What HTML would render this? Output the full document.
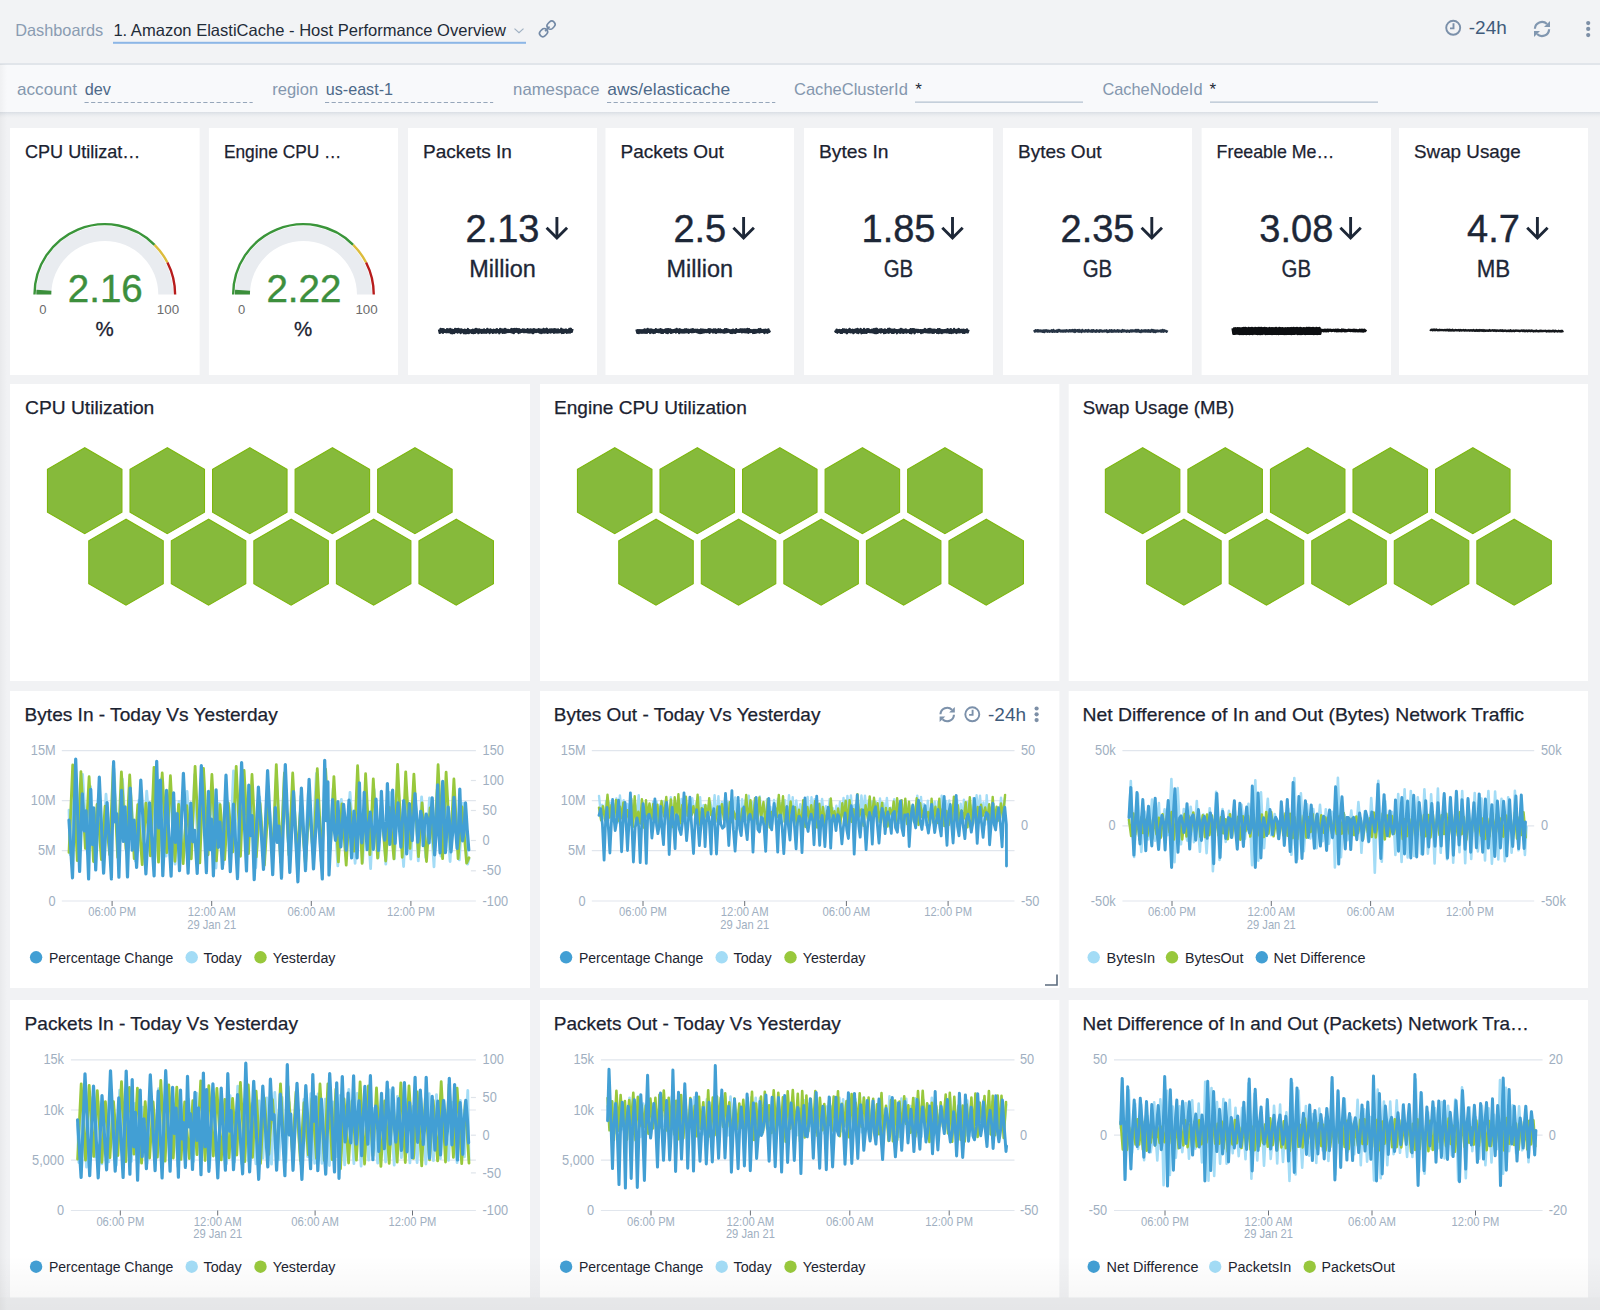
<!DOCTYPE html>
<html><head><meta charset="utf-8"><title>Amazon ElastiCache - Host Performance Overview</title>
<style>
html,body{margin:0;padding:0;background:#f1f2f4;width:1600px;height:1310px;overflow:hidden}
svg{display:block;font-family:"Liberation Sans", sans-serif}
</style></head><body>
<svg width="1600" height="1310" viewBox="0 0 1600 1310">
<defs>
<linearGradient id="shadowG" x1="0" y1="0" x2="0" y2="1"><stop offset="0" stop-color="#d9dee4"/><stop offset="1" stop-color="#f1f2f4" stop-opacity="0"/></linearGradient>
<linearGradient id="botG" x1="0" y1="0" x2="0" y2="1"><stop offset="0" stop-color="#000" stop-opacity="0"/><stop offset="0.76" stop-color="#000" stop-opacity="0.03"/><stop offset="0.78" stop-color="#000" stop-opacity="0.045"/><stop offset="1" stop-color="#000" stop-opacity="0.05"/></linearGradient>
<linearGradient id="leftG" x1="0" y1="0" x2="1" y2="0"><stop offset="0" stop-color="#000" stop-opacity="0.035"/><stop offset="1" stop-color="#000" stop-opacity="0"/></linearGradient>
</defs>
<rect width="1600" height="1310" fill="#f1f2f4"/>
<rect x="0.00" y="0.00" width="1600.00" height="63.00" fill="#f2f3f5"/>
<rect x="0.00" y="63.00" width="1600.00" height="2.00" fill="#e1e5ea"/>
<text x="15.2" y="35.6" font-size="16.5" fill="#8a9cb2" textLength="88.0" lengthAdjust="spacingAndGlyphs">Dashboards</text>
<text x="113.4" y="35.5" font-size="16.5" fill="#1f2b38" textLength="392.6" lengthAdjust="spacingAndGlyphs">1. Amazon ElastiCache - Host Performance Overview</text>
<polyline points="514.5,28.6 519,32.6 523.5,28.6" fill="none" stroke="#9fb0c2" stroke-width="1.2"/>
<rect x="113.00" y="41.80" width="413.00" height="2.00" fill="#8cb6e6"/>
<g transform="translate(547.3,28.9) rotate(-45)" fill="none" stroke="#7389a6" stroke-width="1.6"><rect x="-9.6" y="-3.3" width="8.6" height="6.6" rx="3.3"/><rect x="1" y="-3.3" width="8.6" height="6.6" rx="3.3"/><line x1="-3.2" y1="0" x2="3.2" y2="0"/></g>
<g fill="none" stroke="#7b90aa" stroke-width="1.9"><circle cx="1453.2" cy="27.8" r="7.0"/><polyline points="1453.5,23.2 1453.5,28.4 1450.0,28.4"/></g>
<text x="1468.8" y="33.9" font-size="19" fill="#3f5b7b" textLength="38.0" lengthAdjust="spacingAndGlyphs">-24h</text>
<g transform="translate(1542,29) scale(1.0)" fill="none" stroke="#8197b0" stroke-width="2.2"><path d="M -7.1 -0.2 A 7.1 7.1 0 0 1 5.0 -5.0"/><path d="M 7.1 0.2 A 7.1 7.1 0 0 1 -5.0 5.0"/></g><g transform="translate(1542,29) scale(1.0)" fill="#8197b0"><polygon points="8,-8 8,-2 2,-2"/><polygon points="-8,8 -8,2 -2,2"/></g>
<circle cx="1588.2" cy="23.1" r="2.1" fill="#7d8fa6"/>
<circle cx="1588.2" cy="28.9" r="2.1" fill="#7d8fa6"/>
<circle cx="1588.2" cy="35.1" r="2.1" fill="#7d8fa6"/>
<rect x="0.00" y="65.00" width="1600.00" height="47.00" fill="#f8f9fb"/>
<rect x="0" y="112" width="1600" height="7" fill="url(#shadowG)"/>
<text x="17.1" y="95.2" font-size="17" fill="#8497ae" textLength="59.8" lengthAdjust="spacingAndGlyphs">account</text>
<text x="84.8" y="95.2" font-size="17" fill="#4d6989" textLength="26.2" lengthAdjust="spacingAndGlyphs">dev</text>
<line x1="84.5" y1="102.5" x2="252.7" y2="102.5" stroke="#96a6ba" stroke-width="1" stroke-dasharray="4.2 2.4"/>
<text x="272.2" y="95.2" font-size="17" fill="#8497ae" textLength="46.0" lengthAdjust="spacingAndGlyphs">region</text>
<text x="325.8" y="95.2" font-size="17" fill="#4d6989" textLength="67.2" lengthAdjust="spacingAndGlyphs">us-east-1</text>
<line x1="325" y1="102.5" x2="493.2" y2="102.5" stroke="#96a6ba" stroke-width="1" stroke-dasharray="4.2 2.4"/>
<text x="513.1" y="95.2" font-size="17" fill="#8497ae" textLength="86.4" lengthAdjust="spacingAndGlyphs">namespace</text>
<text x="607.3" y="95.2" font-size="17" fill="#4d6989" textLength="122.9" lengthAdjust="spacingAndGlyphs">aws/elasticache</text>
<line x1="607" y1="102.5" x2="775.3" y2="102.5" stroke="#96a6ba" stroke-width="1" stroke-dasharray="4.2 2.4"/>
<text x="794.0" y="95.2" font-size="17" fill="#8497ae" textLength="113.9" lengthAdjust="spacingAndGlyphs">CacheClusterId</text>
<text x="915.2" y="95.2" font-size="17" fill="#1e2a38">*</text>
<rect x="915.00" y="101.60" width="168.00" height="1.00" fill="#a3b3c5"/>
<text x="1102.4" y="95.2" font-size="17" fill="#8497ae" textLength="100.1" lengthAdjust="spacingAndGlyphs">CacheNodeId</text>
<text x="1209.6" y="95.2" font-size="17" fill="#1e2a38">*</text>
<rect x="1210.00" y="101.60" width="168.00" height="1.00" fill="#a3b3c5"/>
<rect x="10.00" y="128.00" width="189.60" height="247.00" fill="#ffffff"/>
<text x="25.0" y="158.4" font-size="19" fill="#1b2230" textLength="115.4" lengthAdjust="spacingAndGlyphs" stroke="#1b2230" stroke-width="0.25">CPU Utilizat…</text>
<path d="M 36.3 294.5 A 68.5 68.5 0 0 1 173.3 294.5 L 158.3 294.5 A 53.5 53.5 0 0 0 51.3 294.5 Z" fill="#e9ecf0"/>
<path d="M 36.3 294.5 A 68.5 68.5 0 0 1 36.46 289.86 L 51.42 290.87 A 53.5 53.5 0 0 0 51.3 294.5 Z" fill="#3b8f3b"/>
<path d="M 34.50 294.50 A 70.3 70.3 0 0 1 154.51 244.79" fill="none" stroke="#3a953a" stroke-width="2.4"/>
<path d="M 154.51 244.79 A 70.3 70.3 0 0 1 167.44 262.58" fill="none" stroke="#dcbc3c" stroke-width="2.4"/>
<path d="M 167.44 262.58 A 70.3 70.3 0 0 1 175.10 294.50" fill="none" stroke="#b71c1c" stroke-width="2.4"/>
<text x="105.3" y="302.0" font-size="38.5" fill="#3d8f3d" text-anchor="middle" stroke="#3d8f3d" stroke-width="0.4">2.16</text>
<text x="39.3" y="314.0" font-size="13" fill="#6b6b6b">0</text>
<text x="156.8" y="314.0" font-size="13" fill="#6b6b6b" textLength="22.3" lengthAdjust="spacingAndGlyphs">100</text>
<text x="104.6" y="336.3" font-size="20.5" fill="#1b2230" text-anchor="middle" stroke="#1b2230" stroke-width="0.3">%</text>
<rect x="208.90" y="128.00" width="189.10" height="247.00" fill="#ffffff"/>
<text x="223.9" y="158.4" font-size="19" fill="#1b2230" textLength="117.5" lengthAdjust="spacingAndGlyphs" stroke="#1b2230" stroke-width="0.25">Engine CPU …</text>
<path d="M 234.95 294.5 A 68.5 68.5 0 0 1 371.95 294.5 L 356.95 294.5 A 53.5 53.5 0 0 0 249.95 294.5 Z" fill="#e9ecf0"/>
<path d="M 234.95 294.5 A 68.5 68.5 0 0 1 235.12 289.73 L 250.08 290.77 A 53.5 53.5 0 0 0 249.95 294.5 Z" fill="#3b8f3b"/>
<path d="M 233.15 294.50 A 70.3 70.3 0 0 1 353.16 244.79" fill="none" stroke="#3a953a" stroke-width="2.4"/>
<path d="M 353.16 244.79 A 70.3 70.3 0 0 1 366.09 262.58" fill="none" stroke="#dcbc3c" stroke-width="2.4"/>
<path d="M 366.09 262.58 A 70.3 70.3 0 0 1 373.75 294.50" fill="none" stroke="#b71c1c" stroke-width="2.4"/>
<text x="303.9" y="302.0" font-size="38.5" fill="#3d8f3d" text-anchor="middle" stroke="#3d8f3d" stroke-width="0.4">2.22</text>
<text x="237.9" y="314.0" font-size="13" fill="#6b6b6b">0</text>
<text x="355.4" y="314.0" font-size="13" fill="#6b6b6b" textLength="22.3" lengthAdjust="spacingAndGlyphs">100</text>
<text x="303.2" y="336.3" font-size="20.5" fill="#1b2230" text-anchor="middle" stroke="#1b2230" stroke-width="0.3">%</text>
<rect x="408.00" y="128.00" width="189.00" height="247.00" fill="#ffffff"/>
<text x="423.0" y="158.4" font-size="19" fill="#1b2230" textLength="88.9" lengthAdjust="spacingAndGlyphs" stroke="#1b2230" stroke-width="0.25">Packets In</text>
<text x="502.5" y="242.4" font-size="38" fill="#1d2737" text-anchor="middle" stroke="#1d2737" stroke-width="0.4">2.13</text>
<g fill="none" stroke="#1d2737" stroke-width="2.9" stroke-linecap="butt"><line x1="556.9" y1="217" x2="556.9" y2="237.5"/><polyline points="546.6,227.8 556.9,238 567.1,227.8"/></g>
<text x="502.5" y="277.0" font-size="23.5" fill="#1d2737" text-anchor="middle" textLength="66.5" lengthAdjust="spacingAndGlyphs" stroke="#1d2737" stroke-width="0.3">Million</text>
<polyline points="439.00,329.54 439.80,332.90 440.61,328.86 441.41,332.11 442.22,329.16 443.02,332.74 443.83,329.32 444.63,331.83 445.43,330.30 446.24,332.25 447.04,329.19 447.85,332.05 448.65,329.57 449.45,332.15 450.26,329.04 451.06,333.12 451.87,329.72 452.67,333.20 453.48,330.24 454.28,332.91 455.08,328.99 455.89,331.89 456.69,329.25 457.50,332.52 458.30,328.87 459.11,331.98 459.91,329.51 460.71,333.02 461.52,329.36 462.32,332.14 463.13,330.21 463.93,333.11 464.73,329.61 465.54,333.19 466.34,330.12 467.15,332.91 467.95,329.09 468.76,333.08 469.56,330.31 470.36,332.23 471.17,330.26 471.97,332.82 472.78,329.79 473.58,333.14 474.39,329.76 475.19,332.85 475.99,329.00 476.80,332.03 477.60,329.48 478.41,333.13 479.21,329.53 480.02,332.21 480.82,329.93 481.62,332.87 482.43,330.04 483.23,332.59 484.04,329.48 484.84,332.51 485.64,330.14 486.45,332.67 487.25,328.93 488.06,332.15 488.86,329.83 489.67,333.06 490.47,329.45 491.27,332.08 492.08,330.32 492.88,332.82 493.69,329.80 494.49,332.38 495.30,329.92 496.10,332.63 496.90,329.22 497.71,332.14 498.51,330.22 499.32,333.18 500.12,328.94 500.92,331.69 501.73,329.47 502.53,332.72 503.34,329.72 504.14,332.79 504.95,328.86 505.75,332.57 506.55,329.74 507.36,331.96 508.16,329.95 508.97,331.89 509.77,330.17 510.58,331.99 511.38,329.04 512.18,332.49 512.99,329.10 513.79,333.08 514.60,329.09 515.40,331.74 516.20,328.91 517.01,331.80 517.81,329.15 518.62,332.95 519.42,329.33 520.23,332.28 521.03,330.22 521.83,331.79 522.64,329.36 523.44,332.03 524.25,329.52 525.05,332.07 525.86,330.09 526.66,332.11 527.46,329.22 528.27,332.41 529.07,329.74 529.88,332.41 530.68,329.49 531.48,332.45 532.29,329.65 533.09,333.15 533.90,329.18 534.70,332.01 535.51,329.85 536.31,331.95 537.11,329.78 537.92,331.70 538.72,329.19 539.53,332.53 540.33,329.69 541.14,333.04 541.94,329.83 542.74,332.55 543.55,328.91 544.35,332.52 545.16,329.40 545.96,332.23 546.77,328.80 547.57,332.82 548.37,329.87 549.18,332.21 549.98,329.43 550.79,332.46 551.59,329.53 552.39,331.96 553.20,329.45 554.00,332.74 554.81,329.16 555.61,332.35 556.42,329.65 557.22,332.44 558.02,329.51 558.83,332.39 559.63,330.32 560.44,332.07 561.24,328.82 562.05,332.93 562.85,329.62 563.65,332.82 564.46,330.01 565.26,332.07 566.07,329.54 566.87,332.74 567.67,330.30 568.48,332.39 569.28,328.94 570.09,332.60 570.89,328.81 571.70,331.81 572.50,328.94" fill="none" stroke="#1f2a38" stroke-width="2.4" stroke-linejoin="round"/>
<rect x="605.50" y="128.00" width="188.50" height="247.00" fill="#ffffff"/>
<text x="620.5" y="158.4" font-size="19" fill="#1b2230" textLength="103.4" lengthAdjust="spacingAndGlyphs" stroke="#1b2230" stroke-width="0.25">Packets Out</text>
<text x="699.8" y="242.4" font-size="38" fill="#1d2737" text-anchor="middle" stroke="#1d2737" stroke-width="0.4">2.5</text>
<g fill="none" stroke="#1d2737" stroke-width="2.9" stroke-linecap="butt"><line x1="743.6" y1="217" x2="743.6" y2="237.5"/><polyline points="733.4,227.8 743.6,238 753.9,227.8"/></g>
<text x="699.8" y="277.0" font-size="23.5" fill="#1d2737" text-anchor="middle" textLength="66.5" lengthAdjust="spacingAndGlyphs" stroke="#1d2737" stroke-width="0.3">Million</text>
<polyline points="636.50,329.40 637.30,332.78 638.11,330.14 638.91,333.00 639.72,330.13 640.52,332.54 641.33,330.27 642.13,332.66 642.93,330.19 643.74,332.59 644.54,329.39 645.35,332.67 646.15,329.78 646.95,332.81 647.76,329.02 648.56,331.76 649.37,329.68 650.17,332.94 650.98,329.37 651.78,332.22 652.58,329.97 653.39,332.93 654.19,330.28 655.00,332.66 655.80,329.22 656.61,331.82 657.41,329.94 658.21,332.03 659.02,329.64 659.82,332.11 660.63,329.15 661.43,332.89 662.23,329.96 663.04,332.85 663.84,330.30 664.65,331.74 665.45,329.47 666.26,332.72 667.06,329.25 667.86,332.99 668.67,329.20 669.47,331.97 670.28,329.36 671.08,332.89 671.89,330.27 672.69,332.29 673.49,330.18 674.30,331.80 675.10,329.73 675.91,332.54 676.71,329.04 677.52,331.78 678.32,329.69 679.12,333.00 679.93,329.33 680.73,332.34 681.54,330.06 682.34,332.48 683.14,330.03 683.95,332.50 684.75,329.49 685.56,332.15 686.36,329.29 687.17,332.16 687.97,329.74 688.77,332.76 689.58,330.05 690.38,331.86 691.19,329.60 691.99,332.21 692.80,329.18 693.60,331.95 694.40,329.88 695.21,331.68 696.01,329.77 696.82,332.04 697.62,329.77 698.42,332.67 699.23,330.35 700.03,332.98 700.84,329.40 701.64,332.74 702.45,329.65 703.25,332.41 704.05,329.83 704.86,332.15 705.66,330.09 706.47,332.02 707.27,329.99 708.08,332.07 708.88,329.13 709.68,332.72 710.49,329.50 711.29,331.62 712.10,330.03 712.90,332.36 713.70,329.43 714.51,332.19 715.31,329.51 716.12,332.87 716.92,330.03 717.73,332.13 718.53,329.34 719.33,332.05 720.14,329.39 720.94,332.16 721.75,330.37 722.55,332.25 723.36,330.30 724.16,332.70 724.96,329.22 725.77,332.34 726.57,329.14 727.38,331.90 728.18,329.78 728.98,331.85 729.79,330.33 730.59,332.75 731.40,330.33 732.20,332.91 733.01,329.62 733.81,332.58 734.61,330.33 735.42,332.87 736.22,329.29 737.03,331.75 737.83,330.14 738.64,331.80 739.44,329.69 740.24,331.71 741.05,329.28 741.85,332.30 742.66,329.41 743.46,331.96 744.27,329.48 745.07,332.23 745.87,329.49 746.68,332.18 747.48,329.01 748.29,332.78 749.09,329.23 749.89,332.08 750.70,330.13 751.50,331.81 752.31,330.22 753.11,332.95 753.92,330.01 754.72,332.82 755.52,330.07 756.33,332.47 757.13,330.05 757.94,332.03 758.74,329.35 759.55,332.45 760.35,329.08 761.15,331.93 761.96,330.02 762.76,331.69 763.57,330.10 764.37,332.97 765.17,329.61 765.98,332.27 766.78,329.92 767.59,332.66 768.39,329.44 769.20,331.82 770.00,330.34" fill="none" stroke="#1f2a38" stroke-width="2.4" stroke-linejoin="round"/>
<rect x="804.00" y="128.00" width="189.00" height="247.00" fill="#ffffff"/>
<text x="819.0" y="158.4" font-size="19" fill="#1b2230" textLength="69.6" lengthAdjust="spacingAndGlyphs" stroke="#1b2230" stroke-width="0.25">Bytes In</text>
<text x="898.5" y="242.4" font-size="38" fill="#1d2737" text-anchor="middle" stroke="#1d2737" stroke-width="0.4">1.85</text>
<g fill="none" stroke="#1d2737" stroke-width="2.9" stroke-linecap="butt"><line x1="952.5" y1="217" x2="952.5" y2="237.5"/><polyline points="942.3,227.8 952.5,238 962.7,227.8"/></g>
<text x="898.5" y="277.0" font-size="23.5" fill="#1d2737" text-anchor="middle" textLength="29.5" lengthAdjust="spacingAndGlyphs" stroke="#1d2737" stroke-width="0.3">GB</text>
<polyline points="835.00,330.32 835.80,331.83 836.61,329.74 837.41,332.71 838.22,330.13 839.02,331.83 839.83,329.98 840.63,332.83 841.43,330.11 842.24,332.80 843.04,329.32 843.85,331.87 844.65,329.52 845.45,332.35 846.26,329.70 847.06,333.19 847.87,330.20 848.67,331.69 849.48,328.89 850.28,332.28 851.08,330.03 851.89,332.17 852.69,329.78 853.50,333.13 854.30,330.02 855.11,331.99 855.91,329.44 856.71,332.50 857.52,328.87 858.32,332.95 859.13,329.79 859.93,331.97 860.73,329.05 861.54,333.18 862.34,330.29 863.15,332.79 863.95,329.00 864.76,332.66 865.56,330.00 866.36,332.89 867.17,329.22 867.97,331.96 868.78,329.35 869.58,332.00 870.39,330.28 871.19,332.18 871.99,329.83 872.80,332.27 873.60,329.34 874.41,332.95 875.21,328.86 876.02,333.16 876.82,328.81 877.62,332.88 878.43,329.87 879.23,331.93 880.04,329.38 880.84,332.50 881.64,329.30 882.45,331.80 883.25,330.04 884.06,333.08 884.86,329.41 885.67,332.73 886.47,330.19 887.27,332.27 888.08,328.94 888.88,332.66 889.69,328.81 890.49,331.96 891.30,329.64 892.10,332.89 892.90,329.66 893.71,332.87 894.51,329.48 895.32,331.84 896.12,330.19 896.92,333.17 897.73,330.16 898.53,331.96 899.34,329.82 900.14,332.76 900.95,329.02 901.75,332.39 902.55,329.57 903.36,332.87 904.16,329.91 904.97,332.23 905.77,329.40 906.58,332.64 907.38,330.28 908.18,331.83 908.99,330.13 909.79,332.78 910.60,329.27 911.40,333.16 912.20,329.16 913.01,332.05 913.81,329.16 914.62,333.18 915.42,329.80 916.23,331.68 917.03,329.76 917.83,332.10 918.64,330.07 919.44,331.73 920.25,330.15 921.05,332.99 921.86,330.26 922.66,332.61 923.46,330.02 924.27,331.96 925.07,329.08 925.88,332.12 926.68,330.06 927.48,332.36 928.29,329.27 929.09,332.47 929.90,329.02 930.70,332.28 931.51,329.53 932.31,332.76 933.11,329.63 933.92,332.76 934.72,329.62 935.53,331.87 936.33,330.15 937.14,332.87 937.94,329.19 938.74,333.11 939.55,329.28 940.35,332.55 941.16,330.08 941.96,332.97 942.77,330.16 943.57,332.31 944.37,330.12 945.18,332.25 945.98,329.87 946.79,332.32 947.59,329.24 948.39,332.49 949.20,329.97 950.00,332.86 950.81,329.21 951.61,332.93 952.42,330.29 953.22,332.61 954.02,328.96 954.83,332.06 955.63,330.03 956.44,332.91 957.24,329.78 958.05,332.28 958.85,329.08 959.65,332.25 960.46,330.03 961.26,331.99 962.07,329.81 962.87,332.73 963.67,329.77 964.48,332.85 965.28,330.24 966.09,332.04 966.89,329.38 967.70,332.40 968.50,329.57" fill="none" stroke="#1f2a38" stroke-width="2.4" stroke-linejoin="round"/>
<rect x="1003.00" y="128.00" width="189.00" height="247.00" fill="#ffffff"/>
<text x="1018.0" y="158.4" font-size="19" fill="#1b2230" textLength="83.5" lengthAdjust="spacingAndGlyphs" stroke="#1b2230" stroke-width="0.25">Bytes Out</text>
<text x="1097.5" y="242.4" font-size="38" fill="#1d2737" text-anchor="middle" stroke="#1d2737" stroke-width="0.4">2.35</text>
<g fill="none" stroke="#1d2737" stroke-width="2.9" stroke-linecap="butt"><line x1="1151.8" y1="217" x2="1151.8" y2="237.5"/><polyline points="1141.6,227.8 1151.8,238 1162.0,227.8"/></g>
<text x="1097.5" y="277.0" font-size="23.5" fill="#1d2737" text-anchor="middle" textLength="29.5" lengthAdjust="spacingAndGlyphs" stroke="#1d2737" stroke-width="0.3">GB</text>
<polyline points="1034.00,330.03 1034.80,331.78 1035.61,329.95 1036.41,331.45 1037.22,329.97 1038.02,331.73 1038.83,330.06 1039.63,331.54 1040.43,330.30 1041.24,331.63 1042.04,330.31 1042.85,332.05 1043.65,330.18 1044.45,332.27 1045.26,330.08 1046.06,331.59 1046.87,330.05 1047.67,331.87 1048.48,330.48 1049.28,331.87 1050.08,330.60 1050.89,331.73 1051.69,330.12 1052.50,332.01 1053.30,329.74 1054.11,331.95 1054.91,330.59 1055.71,331.82 1056.52,330.38 1057.32,332.07 1058.13,329.80 1058.93,331.47 1059.73,329.91 1060.54,331.66 1061.34,330.44 1062.15,331.80 1062.95,330.23 1063.76,331.65 1064.56,330.37 1065.36,331.78 1066.17,329.98 1066.97,331.54 1067.78,330.27 1068.58,331.61 1069.39,329.95 1070.19,331.62 1070.99,329.94 1071.80,331.42 1072.60,329.83 1073.41,331.78 1074.21,329.76 1075.02,332.11 1075.82,329.84 1076.62,331.42 1077.43,329.93 1078.23,331.87 1079.04,329.80 1079.84,331.91 1080.64,330.29 1081.45,332.21 1082.25,329.70 1083.06,331.59 1083.86,330.48 1084.67,331.79 1085.47,330.01 1086.27,331.54 1087.08,330.08 1087.88,331.88 1088.69,329.88 1089.49,331.52 1090.30,330.48 1091.10,331.86 1091.90,329.93 1092.71,331.92 1093.51,329.93 1094.32,331.63 1095.12,330.58 1095.92,332.02 1096.73,330.02 1097.53,331.41 1098.34,330.53 1099.14,332.03 1099.95,330.00 1100.75,331.58 1101.55,330.37 1102.36,331.77 1103.16,330.59 1103.97,331.66 1104.77,330.39 1105.58,331.43 1106.38,330.13 1107.18,332.25 1107.99,330.54 1108.79,332.02 1109.60,330.05 1110.40,331.65 1111.20,330.02 1112.01,332.09 1112.81,330.37 1113.62,331.76 1114.42,330.04 1115.23,331.79 1116.03,330.44 1116.83,331.76 1117.64,329.96 1118.44,331.92 1119.25,330.32 1120.05,331.65 1120.86,330.46 1121.66,332.00 1122.46,329.90 1123.27,331.61 1124.07,330.04 1124.88,331.45 1125.68,330.45 1126.48,331.93 1127.29,330.28 1128.09,331.78 1128.90,330.56 1129.70,331.85 1130.51,330.18 1131.31,331.60 1132.11,330.04 1132.92,331.59 1133.72,330.29 1134.53,331.49 1135.33,329.82 1136.14,331.90 1136.94,329.79 1137.74,331.70 1138.55,329.90 1139.35,332.00 1140.16,330.57 1140.96,332.23 1141.77,330.15 1142.57,331.69 1143.37,330.27 1144.18,331.64 1144.98,329.92 1145.79,331.79 1146.59,330.23 1147.39,331.79 1148.20,329.98 1149.00,331.92 1149.81,330.40 1150.61,331.92 1151.42,329.73 1152.22,331.72 1153.02,329.83 1153.83,332.15 1154.63,330.19 1155.44,332.28 1156.24,330.38 1157.05,331.60 1157.85,330.24 1158.65,331.50 1159.46,330.54 1160.26,331.71 1161.07,330.17 1161.87,331.93 1162.67,329.81 1163.48,331.91 1164.28,330.13 1165.09,331.39 1165.89,330.61 1166.70,331.85 1167.50,330.37" fill="none" stroke="#263445" stroke-width="2.0" stroke-linejoin="round"/>
<rect x="1201.60" y="128.00" width="189.40" height="247.00" fill="#ffffff"/>
<text x="1216.6" y="158.4" font-size="19" fill="#1b2230" textLength="117.7" lengthAdjust="spacingAndGlyphs" stroke="#1b2230" stroke-width="0.25">Freeable Me…</text>
<text x="1296.3" y="242.4" font-size="38" fill="#1d2737" text-anchor="middle" stroke="#1d2737" stroke-width="0.4">3.08</text>
<g fill="none" stroke="#1d2737" stroke-width="2.9" stroke-linecap="butt"><line x1="1350.6" y1="217" x2="1350.6" y2="237.5"/><polyline points="1340.4,227.8 1350.6,238 1360.8,227.8"/></g>
<text x="1296.3" y="277.0" font-size="23.5" fill="#1d2737" text-anchor="middle" textLength="29.5" lengthAdjust="spacingAndGlyphs" stroke="#1d2737" stroke-width="0.3">GB</text>
<polyline points="1232.60,328.24 1233.40,333.86 1234.21,328.33 1235.01,333.79 1235.82,328.33 1236.62,333.64 1237.43,328.23 1238.23,333.69 1239.03,328.22 1239.84,333.98 1240.64,328.35 1241.45,333.93 1242.25,328.30 1243.05,334.00 1243.86,328.02 1244.66,333.73 1245.47,327.97 1246.27,333.97 1247.08,328.33 1247.88,333.82 1248.68,328.04 1249.49,334.06 1250.29,328.28 1251.10,333.75 1251.90,328.00 1252.71,334.08 1253.51,328.32 1254.31,333.68 1255.12,328.02 1255.92,333.78 1256.73,328.19 1257.53,334.04 1258.33,328.02 1259.14,333.94 1259.94,327.96 1260.75,333.98 1261.55,327.99 1262.36,333.93 1263.16,328.09 1263.96,333.66 1264.77,327.94 1265.57,334.06 1266.38,328.20 1267.18,333.93 1267.99,328.36 1268.79,333.87 1269.59,328.08 1270.40,333.77 1271.20,328.17 1272.01,334.02 1272.81,328.30 1273.62,333.85 1274.42,328.32 1275.22,333.81 1276.03,327.95 1276.83,333.92 1277.64,328.35 1278.44,334.03 1279.24,328.06 1280.05,333.88 1280.85,328.23 1281.66,333.77 1282.46,328.28 1283.27,333.92 1284.07,328.34 1284.87,334.07 1285.68,328.32 1286.48,333.93 1287.29,328.10 1288.09,333.80 1288.90,328.24 1289.70,333.84 1290.50,328.21 1291.31,334.09 1292.11,328.07 1292.92,333.88 1293.72,328.06 1294.52,333.86 1295.33,328.30 1296.13,333.65 1296.94,327.91 1297.74,334.03 1298.55,328.32 1299.35,333.92 1300.15,328.00 1300.96,334.05 1301.76,328.33 1302.57,333.70 1303.37,328.18 1304.18,333.92 1304.98,328.33 1305.78,333.96 1306.59,328.01 1307.39,333.84 1308.20,327.97 1309.00,333.82 1309.80,327.98 1310.61,333.81 1311.41,328.18 1312.22,333.81 1313.02,328.03 1313.83,334.05 1314.63,328.33 1315.43,333.91 1316.24,327.98 1317.04,333.96 1317.85,328.26 1318.65,333.80 1319.46,327.95 1320.26,333.74 1321.06,329.63 1321.87,331.02 1322.67,329.90 1323.48,331.22 1324.28,329.80 1325.08,331.14 1325.89,329.68 1326.69,331.17 1327.50,329.65 1328.30,331.18 1329.11,329.86 1329.91,330.81 1330.71,329.66 1331.52,330.91 1332.32,330.09 1333.13,330.80 1333.93,329.84 1334.74,331.00 1335.54,329.82 1336.34,331.28 1337.15,329.64 1337.95,331.28 1338.76,329.70 1339.56,331.01 1340.37,330.20 1341.17,331.25 1341.97,329.60 1342.78,331.06 1343.58,329.66 1344.39,331.13 1345.19,329.99 1345.99,331.29 1346.80,330.19 1347.60,331.00 1348.41,329.79 1349.21,330.82 1350.02,329.88 1350.82,331.01 1351.62,330.09 1352.43,331.03 1353.23,329.76 1354.04,331.19 1354.84,329.86 1355.65,331.26 1356.45,329.97 1357.25,331.14 1358.06,330.17 1358.86,331.19 1359.67,329.81 1360.47,331.16 1361.27,329.73 1362.08,331.39 1362.88,329.77 1363.69,331.38 1364.49,329.82 1365.30,330.94 1366.10,329.68" fill="none" stroke="#0d0f12" stroke-width="2.4" stroke-linejoin="round"/>
<rect x="1399.00" y="128.00" width="189.00" height="247.00" fill="#ffffff"/>
<text x="1414.0" y="158.4" font-size="19" fill="#1b2230" textLength="106.7" lengthAdjust="spacingAndGlyphs" stroke="#1b2230" stroke-width="0.25">Swap Usage</text>
<text x="1493.5" y="242.4" font-size="38" fill="#1d2737" text-anchor="middle" stroke="#1d2737" stroke-width="0.4">4.7</text>
<g fill="none" stroke="#1d2737" stroke-width="2.9" stroke-linecap="butt"><line x1="1537.4" y1="217" x2="1537.4" y2="237.5"/><polyline points="1527.2,227.8 1537.4,238 1547.6,227.8"/></g>
<text x="1493.5" y="277.0" font-size="23.5" fill="#1d2737" text-anchor="middle" textLength="33.5" lengthAdjust="spacingAndGlyphs" stroke="#1d2737" stroke-width="0.3">MB</text>
<polyline points="1430.00,329.41 1430.80,330.21 1431.61,329.53 1432.41,330.40 1433.22,329.45 1434.02,330.39 1434.83,329.48 1435.63,330.30 1436.43,329.46 1437.24,330.42 1438.04,329.82 1438.85,330.40 1439.65,329.64 1440.45,330.29 1441.26,329.76 1442.06,330.29 1442.87,329.91 1443.67,330.37 1444.48,329.85 1445.28,330.43 1446.08,329.64 1446.89,330.51 1447.69,329.62 1448.50,330.72 1449.30,329.62 1450.11,330.76 1450.91,329.77 1451.71,330.66 1452.52,329.65 1453.32,330.62 1454.13,329.98 1454.93,330.62 1455.73,329.83 1456.54,330.49 1457.34,330.03 1458.15,330.51 1458.95,329.79 1459.76,330.79 1460.56,329.82 1461.36,330.64 1462.17,330.10 1462.97,330.48 1463.78,329.85 1464.58,330.71 1465.39,329.95 1466.19,330.58 1466.99,330.10 1467.80,330.60 1468.60,330.11 1469.41,330.79 1470.21,330.05 1471.02,330.78 1471.82,330.02 1472.62,330.79 1473.43,329.90 1474.23,330.91 1475.04,330.16 1475.84,331.00 1476.64,329.88 1477.45,330.95 1478.25,330.06 1479.06,331.02 1479.86,329.93 1480.67,330.74 1481.47,329.99 1482.27,331.01 1483.08,329.98 1483.88,331.04 1484.69,330.09 1485.49,330.96 1486.30,330.29 1487.10,330.97 1487.90,330.28 1488.71,331.01 1489.51,329.98 1490.32,330.88 1491.12,330.34 1491.92,330.75 1492.73,330.17 1493.53,330.82 1494.34,330.09 1495.14,331.02 1495.95,330.20 1496.75,331.06 1497.55,330.36 1498.36,330.99 1499.16,330.42 1499.97,331.04 1500.77,330.12 1501.58,330.89 1502.38,330.18 1503.18,331.26 1503.99,330.35 1504.79,330.94 1505.60,330.39 1506.40,331.22 1507.20,330.48 1508.01,331.21 1508.81,330.42 1509.62,331.21 1510.42,330.17 1511.23,331.27 1512.03,330.48 1512.83,331.15 1513.64,330.44 1514.44,331.31 1515.25,330.46 1516.05,331.02 1516.86,330.43 1517.66,331.00 1518.46,330.52 1519.27,331.28 1520.07,330.49 1520.88,331.07 1521.68,330.25 1522.48,331.12 1523.29,330.32 1524.09,331.31 1524.90,330.44 1525.70,331.31 1526.51,330.44 1527.31,331.41 1528.11,330.41 1528.92,331.18 1529.72,330.44 1530.53,331.30 1531.33,330.34 1532.14,331.15 1532.94,330.56 1533.74,331.52 1534.55,330.73 1535.35,331.43 1536.16,330.40 1536.96,331.40 1537.77,330.76 1538.57,331.48 1539.37,330.69 1540.18,331.39 1540.98,330.47 1541.79,331.32 1542.59,330.73 1543.39,331.25 1544.20,330.70 1545.00,331.26 1545.81,330.57 1546.61,331.58 1547.42,330.85 1548.22,331.46 1549.02,330.56 1549.83,331.58 1550.63,330.79 1551.44,331.49 1552.24,330.63 1553.05,331.50 1553.85,330.51 1554.65,331.68 1555.46,330.54 1556.26,331.37 1557.07,330.95 1557.87,331.58 1558.67,330.73 1559.48,331.46 1560.28,330.89 1561.09,331.69 1561.89,330.67 1562.70,331.38 1563.50,330.97" fill="none" stroke="#15181c" stroke-width="2.1" stroke-linejoin="round"/>
<rect x="10.00" y="384.00" width="520.00" height="297.00" fill="#ffffff"/>
<text x="25.0" y="414.3" font-size="19" fill="#1b2230" textLength="129.3" lengthAdjust="spacingAndGlyphs" stroke="#1b2230" stroke-width="0.25">CPU Utilization</text>
<polygon points="84.70,447.70 47.46,469.20 47.46,512.20 84.70,533.70 121.94,512.20 121.94,469.20" fill="#86ba3b" stroke="#7db60e" stroke-width="1.1"/>
<polygon points="167.25,447.70 130.01,469.20 130.01,512.20 167.25,533.70 204.49,512.20 204.49,469.20" fill="#86ba3b" stroke="#7db60e" stroke-width="1.1"/>
<polygon points="249.80,447.70 212.56,469.20 212.56,512.20 249.80,533.70 287.04,512.20 287.04,469.20" fill="#86ba3b" stroke="#7db60e" stroke-width="1.1"/>
<polygon points="332.35,447.70 295.11,469.20 295.11,512.20 332.35,533.70 369.59,512.20 369.59,469.20" fill="#86ba3b" stroke="#7db60e" stroke-width="1.1"/>
<polygon points="414.90,447.70 377.66,469.20 377.66,512.20 414.90,533.70 452.14,512.20 452.14,469.20" fill="#86ba3b" stroke="#7db60e" stroke-width="1.1"/>
<polygon points="126.00,519.20 88.76,540.70 88.76,583.70 126.00,605.20 163.24,583.70 163.24,540.70" fill="#86ba3b" stroke="#7db60e" stroke-width="1.1"/>
<polygon points="208.55,519.20 171.31,540.70 171.31,583.70 208.55,605.20 245.79,583.70 245.79,540.70" fill="#86ba3b" stroke="#7db60e" stroke-width="1.1"/>
<polygon points="291.10,519.20 253.86,540.70 253.86,583.70 291.10,605.20 328.34,583.70 328.34,540.70" fill="#86ba3b" stroke="#7db60e" stroke-width="1.1"/>
<polygon points="373.65,519.20 336.41,540.70 336.41,583.70 373.65,605.20 410.89,583.70 410.89,540.70" fill="#86ba3b" stroke="#7db60e" stroke-width="1.1"/>
<polygon points="456.20,519.20 418.96,540.70 418.96,583.70 456.20,605.20 493.44,583.70 493.44,540.70" fill="#86ba3b" stroke="#7db60e" stroke-width="1.1"/>
<rect x="540.00" y="384.00" width="519.40" height="297.00" fill="#ffffff"/>
<text x="554.0" y="414.3" font-size="19" fill="#1b2230" textLength="192.8" lengthAdjust="spacingAndGlyphs" stroke="#1b2230" stroke-width="0.25">Engine CPU Utilization</text>
<polygon points="614.70,447.70 577.46,469.20 577.46,512.20 614.70,533.70 651.94,512.20 651.94,469.20" fill="#86ba3b" stroke="#7db60e" stroke-width="1.1"/>
<polygon points="697.25,447.70 660.01,469.20 660.01,512.20 697.25,533.70 734.49,512.20 734.49,469.20" fill="#86ba3b" stroke="#7db60e" stroke-width="1.1"/>
<polygon points="779.80,447.70 742.56,469.20 742.56,512.20 779.80,533.70 817.04,512.20 817.04,469.20" fill="#86ba3b" stroke="#7db60e" stroke-width="1.1"/>
<polygon points="862.35,447.70 825.11,469.20 825.11,512.20 862.35,533.70 899.59,512.20 899.59,469.20" fill="#86ba3b" stroke="#7db60e" stroke-width="1.1"/>
<polygon points="944.90,447.70 907.66,469.20 907.66,512.20 944.90,533.70 982.14,512.20 982.14,469.20" fill="#86ba3b" stroke="#7db60e" stroke-width="1.1"/>
<polygon points="656.00,519.20 618.76,540.70 618.76,583.70 656.00,605.20 693.24,583.70 693.24,540.70" fill="#86ba3b" stroke="#7db60e" stroke-width="1.1"/>
<polygon points="738.55,519.20 701.31,540.70 701.31,583.70 738.55,605.20 775.79,583.70 775.79,540.70" fill="#86ba3b" stroke="#7db60e" stroke-width="1.1"/>
<polygon points="821.10,519.20 783.86,540.70 783.86,583.70 821.10,605.20 858.34,583.70 858.34,540.70" fill="#86ba3b" stroke="#7db60e" stroke-width="1.1"/>
<polygon points="903.65,519.20 866.41,540.70 866.41,583.70 903.65,605.20 940.89,583.70 940.89,540.70" fill="#86ba3b" stroke="#7db60e" stroke-width="1.1"/>
<polygon points="986.20,519.20 948.96,540.70 948.96,583.70 986.20,605.20 1023.44,583.70 1023.44,540.70" fill="#86ba3b" stroke="#7db60e" stroke-width="1.1"/>
<rect x="1068.70" y="384.00" width="519.30" height="297.00" fill="#ffffff"/>
<text x="1082.7" y="414.3" font-size="19" fill="#1b2230" textLength="151.5" lengthAdjust="spacingAndGlyphs" stroke="#1b2230" stroke-width="0.25">Swap Usage (MB)</text>
<polygon points="1142.60,447.70 1105.36,469.20 1105.36,512.20 1142.60,533.70 1179.84,512.20 1179.84,469.20" fill="#86ba3b" stroke="#7db60e" stroke-width="1.1"/>
<polygon points="1225.15,447.70 1187.91,469.20 1187.91,512.20 1225.15,533.70 1262.39,512.20 1262.39,469.20" fill="#86ba3b" stroke="#7db60e" stroke-width="1.1"/>
<polygon points="1307.70,447.70 1270.46,469.20 1270.46,512.20 1307.70,533.70 1344.94,512.20 1344.94,469.20" fill="#86ba3b" stroke="#7db60e" stroke-width="1.1"/>
<polygon points="1390.25,447.70 1353.01,469.20 1353.01,512.20 1390.25,533.70 1427.49,512.20 1427.49,469.20" fill="#86ba3b" stroke="#7db60e" stroke-width="1.1"/>
<polygon points="1472.80,447.70 1435.56,469.20 1435.56,512.20 1472.80,533.70 1510.04,512.20 1510.04,469.20" fill="#86ba3b" stroke="#7db60e" stroke-width="1.1"/>
<polygon points="1183.90,519.20 1146.66,540.70 1146.66,583.70 1183.90,605.20 1221.14,583.70 1221.14,540.70" fill="#86ba3b" stroke="#7db60e" stroke-width="1.1"/>
<polygon points="1266.45,519.20 1229.21,540.70 1229.21,583.70 1266.45,605.20 1303.69,583.70 1303.69,540.70" fill="#86ba3b" stroke="#7db60e" stroke-width="1.1"/>
<polygon points="1349.00,519.20 1311.76,540.70 1311.76,583.70 1349.00,605.20 1386.24,583.70 1386.24,540.70" fill="#86ba3b" stroke="#7db60e" stroke-width="1.1"/>
<polygon points="1431.55,519.20 1394.31,540.70 1394.31,583.70 1431.55,605.20 1468.79,583.70 1468.79,540.70" fill="#86ba3b" stroke="#7db60e" stroke-width="1.1"/>
<polygon points="1514.10,519.20 1476.86,540.70 1476.86,583.70 1514.10,605.20 1551.34,583.70 1551.34,540.70" fill="#86ba3b" stroke="#7db60e" stroke-width="1.1"/>
<rect x="10.00" y="691.00" width="520.00" height="297.00" fill="#ffffff"/>
<text x="24.6" y="721.2" font-size="19" fill="#1b2230" textLength="253.1" lengthAdjust="spacingAndGlyphs" stroke="#1b2230" stroke-width="0.25">Bytes In - Today Vs Yesterday</text>
<line x1="61.8" y1="750.6" x2="475.9" y2="750.6" stroke="#e1e6ed" stroke-width="1.2"/>
<line x1="61.8" y1="800.6" x2="475.9" y2="800.6" stroke="#e1e6ed" stroke-width="1.2"/>
<line x1="61.8" y1="850.6" x2="475.9" y2="850.6" stroke="#e1e6ed" stroke-width="1.2"/>
<line x1="61.8" y1="901.0" x2="475.9" y2="901.0" stroke="#e1e6ed" stroke-width="1.2"/>
<text transform="translate(55.7,755.2) scale(0.9,1)" font-size="14.2" fill="#a0afc1" text-anchor="end">15M</text>
<text transform="translate(55.7,805.2) scale(0.9,1)" font-size="14.2" fill="#a0afc1" text-anchor="end">10M</text>
<text transform="translate(55.7,855.2) scale(0.9,1)" font-size="14.2" fill="#a0afc1" text-anchor="end">5M</text>
<text transform="translate(55.7,905.6) scale(0.9,1)" font-size="14.2" fill="#a0afc1" text-anchor="end">0</text>
<text transform="translate(482.6,755.2) scale(0.9,1)" font-size="14.2" fill="#a0afc1">150</text>
<text transform="translate(482.6,785.1) scale(0.9,1)" font-size="14.2" fill="#a0afc1">100</text>
<text transform="translate(482.6,815.1) scale(0.9,1)" font-size="14.2" fill="#a0afc1">50</text>
<text transform="translate(482.6,845.1) scale(0.9,1)" font-size="14.2" fill="#a0afc1">0</text>
<text transform="translate(482.6,875.4) scale(0.9,1)" font-size="14.2" fill="#a0afc1">-50</text>
<text transform="translate(482.6,905.6) scale(0.9,1)" font-size="14.2" fill="#a0afc1">-100</text>
<line x1="470.9" y1="780.5" x2="475.9" y2="780.5" stroke="#dfe4ea" stroke-width="1.2"/>
<line x1="470.9" y1="810.5" x2="475.9" y2="810.5" stroke="#dfe4ea" stroke-width="1.2"/>
<line x1="470.9" y1="840.5" x2="475.9" y2="840.5" stroke="#dfe4ea" stroke-width="1.2"/>
<line x1="470.9" y1="870.8" x2="475.9" y2="870.8" stroke="#dfe4ea" stroke-width="1.2"/>
<line x1="112.1" y1="901" x2="112.1" y2="906" stroke="#6b7078" stroke-width="1"/>
<text x="112.1" y="916.3" font-size="12.2" fill="#a0afc1" text-anchor="middle" textLength="47.8" lengthAdjust="spacingAndGlyphs">06:00 PM</text>
<line x1="211.7" y1="901" x2="211.7" y2="906" stroke="#6b7078" stroke-width="1"/>
<text x="211.7" y="916.3" font-size="12.2" fill="#a0afc1" text-anchor="middle" textLength="47.8" lengthAdjust="spacingAndGlyphs">12:00 AM</text>
<text x="211.7" y="928.9" font-size="12.2" fill="#a0afc1" text-anchor="middle" textLength="49.0" lengthAdjust="spacingAndGlyphs">29 Jan 21</text>
<line x1="311.3" y1="901" x2="311.3" y2="906" stroke="#6b7078" stroke-width="1"/>
<text x="311.3" y="916.3" font-size="12.2" fill="#a0afc1" text-anchor="middle" textLength="47.8" lengthAdjust="spacingAndGlyphs">06:00 AM</text>
<line x1="410.9" y1="901" x2="410.9" y2="906" stroke="#6b7078" stroke-width="1"/>
<text x="410.9" y="916.3" font-size="12.2" fill="#a0afc1" text-anchor="middle" textLength="47.8" lengthAdjust="spacingAndGlyphs">12:00 PM</text>
<polyline points="69.0,810.1 70.2,854.6 74.0,771.7 78.7,857.2 82.6,774.3 87.3,853.6 90.6,786.6 94.6,862.3 98.2,798.9 102.7,858.9 106.0,794.2 110.0,849.0 114.0,768.9 118.9,861.8 122.5,779.1 126.8,853.9 130.6,789.2 135.3,861.0 138.8,800.3 143.0,856.6 146.7,791.1 151.3,846.3 154.4,769.4 158.3,857.6 161.8,777.8 166.1,856.2 170.1,790.0 175.1,864.2 178.9,801.5 183.6,855.2 187.1,791.3 191.4,854.3 194.6,774.7 198.5,862.2 202.5,778.5 207.3,851.5 211.2,792.3 216.0,868.0 219.3,803.1 223.2,864.4 226.4,793.7 230.3,850.8 233.5,770.8 237.3,858.9 241.4,772.7 246.5,852.4 250.7,786.9 255.8,867.8 259.6,796.8 264.2,862.1 268.3,796.1 273.2,849.8 276.5,774.4 280.7,858.5 284.3,776.4 288.8,854.5 292.7,788.3 297.4,868.0 300.7,796.4 304.8,855.8 308.3,792.0 312.5,848.9 316.4,773.3 321.0,861.2 324.7,777.3 329.3,852.1 333.1,788.5 337.8,865.9 341.4,799.5 345.8,855.9 350.0,792.4 355.1,863.3 358.5,791.3 362.6,862.2 366.2,797.2 370.6,868.7 374.2,789.5 378.5,857.3 381.8,800.9 385.8,864.2 389.6,792.5 394.3,858.9 398.5,791.5 403.6,866.5 406.8,796.8 410.8,859.1 414.2,791.1 418.3,860.9 421.6,796.8 425.7,857.5 429.5,797.8 434.0,866.8 437.2,789.6 441.0,856.2 445.1,796.7 450.1,861.5 454.3,793.7 459.3,859.9 463.0,803.2 467.6,864.1 469.0,858.7" fill="none" stroke="#a3dcf6" stroke-width="2.8" stroke-linejoin="round" stroke-linecap="round"/>
<polyline points="69.0,852.4 72.7,765.0 77.3,860.6 80.9,771.7 85.4,848.4 89.1,776.7 93.5,861.5 97.1,804.3 101.4,859.6 105.1,806.1 109.6,854.5 113.3,765.3 117.7,857.4 121.4,771.8 126.0,849.2 129.7,775.0 134.2,858.6 137.8,804.6 142.2,864.6 145.9,803.2 150.4,855.9 154.0,767.3 158.5,862.1 162.2,773.0 166.7,852.7 170.4,775.7 174.9,861.3 178.6,804.3 183.2,863.6 186.8,805.7 191.3,858.8 195.1,766.4 199.8,862.9 203.5,768.4 208.1,854.8 211.9,774.5 216.4,860.9 220.1,804.7 224.6,859.6 228.3,802.9 232.7,852.0 236.2,766.3 240.5,856.3 244.1,770.5 248.5,853.7 252.0,774.5 256.3,856.9 260.0,803.2 264.4,865.1 268.2,804.8 272.8,855.6 276.3,764.6 280.6,862.1 284.4,773.0 289.1,855.3 292.7,773.0 297.0,856.0 300.8,806.2 305.5,864.6 309.1,805.8 313.5,857.2 317.3,768.7 321.8,862.1 325.6,769.1 330.3,849.0 333.9,776.6 338.4,861.9 341.9,804.0 346.2,865.2 349.7,803.5 354.0,851.2 357.6,765.7 362.1,863.4 365.6,773.7 369.9,854.6 373.3,778.8 377.6,858.2 381.2,805.6 385.7,861.0 389.4,807.3 393.9,858.8 397.6,764.5 402.2,857.3 405.7,771.9 410.0,848.4 413.9,774.1 418.5,856.6 422.1,802.8 426.5,861.5 430.1,807.8 434.4,854.3 438.1,764.7 442.6,858.7 446.1,772.2 450.4,848.8 453.9,779.0 458.1,858.6 462.0,807.0 466.6,863.2 469.0,857.8" fill="none" stroke="#98c83c" stroke-width="2.8" stroke-linejoin="round" stroke-linecap="round"/>
<polyline points="69.0,820.2 72.5,877.8 75.7,759.1 79.6,871.5 82.3,793.9 84.3,830.8 86.1,810.8 88.6,879.0 90.7,789.3 92.3,844.3 93.7,807.9 95.7,869.9 99.3,777.2 103.6,873.1 107.1,802.5 111.4,878.9 113.6,761.7 115.3,821.9 116.8,813.9 118.9,877.1 121.5,790.3 123.4,841.4 125.1,806.9 127.5,877.0 130.2,788.0 132.2,850.1 134.1,820.2 136.6,867.5 140.8,780.0 145.9,874.0 149.6,802.9 154.1,876.0 156.7,761.4 158.7,827.9 160.4,780.0 162.8,875.6 166.5,790.4 171.1,876.1 173.6,792.8 175.5,842.4 177.2,813.6 179.5,870.7 183.4,773.3 188.1,873.2 190.8,803.1 192.8,841.7 194.7,830.4 197.2,873.4 201.3,765.7 206.4,872.7 208.5,791.3 210.1,849.7 211.5,819.0 213.4,875.8 216.1,789.9 218.1,847.3 219.9,822.0 222.4,868.4 226.0,775.2 230.3,871.6 233.5,804.2 237.5,878.7 241.6,762.5 246.5,871.0 248.8,785.2 250.5,835.7 252.1,815.5 254.2,879.7 258.4,787.1 263.5,869.5 267.6,770.5 272.7,874.7 275.3,807.5 277.3,842.4 279.0,826.2 281.5,878.2 285.3,764.6 289.8,872.5 293.5,791.5 297.9,881.8 301.4,788.1 305.5,870.7 309.1,779.3 313.5,868.9 317.5,800.2 322.3,878.9 324.7,760.3 326.4,820.6 327.9,781.9 329.0,874.9 331.0,833.4 332.6,799.6 333.9,827.1 335.5,840.3 336.7,832.3 337.9,801.6 339.4,829.7 340.8,847.0 342.1,827.9 343.6,804.3 345.0,819.4 346.2,850.2 347.4,827.6 349.0,800.0 350.3,830.7 351.6,857.8 352.9,831.5 354.0,811.1 355.4,825.8 357.1,857.9 358.3,826.4 359.4,782.9 360.6,825.6 361.8,842.8 362.9,831.0 364.2,792.4 365.7,825.7 367.1,849.6 368.7,823.0 370.3,812.2 371.9,829.3 373.3,849.4 374.8,827.3 376.0,799.0 377.3,822.7 378.5,850.4 380.0,831.0 381.4,791.3 383.1,825.8 384.7,840.2 386.2,821.4 387.4,783.6 388.6,818.6 389.8,844.5 391.4,819.3 392.6,790.1 393.9,824.0 395.1,843.5 396.5,819.1 398.1,802.9 399.6,831.1 400.9,847.1 402.2,824.1 403.7,800.5 405.4,817.3 406.7,854.0 408.3,825.3 409.4,803.5 410.6,820.9 412.2,840.7 413.4,820.7 415.0,793.7 416.5,815.2 417.8,842.1 419.4,825.8 420.7,811.4 421.9,816.6 423.2,845.6 424.6,824.8 426.2,814.2 427.7,819.0 429.1,842.9 430.6,820.3 432.2,797.9 433.5,818.5 434.7,854.8 436.3,829.9 437.7,784.8 438.9,830.8 440.1,852.9 441.2,822.6 442.7,781.4 444.3,819.9 445.4,852.7 447.1,826.7 448.2,807.2 449.5,822.1 451.0,851.8 452.6,833.2 454.0,797.4 455.4,826.5 457.1,848.5 458.4,832.3 459.8,789.0 461.1,826.2 462.6,840.8 463.9,832.4 465.5,802.8 467.2,829.4 468.8,849.8" fill="none" stroke="#429fd4" stroke-width="3.2" stroke-linejoin="round" stroke-linecap="round"/>
<circle cx="36.1" cy="957.3" r="6.2" fill="#429fd4"/>
<text x="48.9" y="962.8" font-size="14" fill="#1c2430" textLength="124.5" lengthAdjust="spacingAndGlyphs">Percentage Change</text>
<circle cx="191.7" cy="957.3" r="6.2" fill="#a3dcf6"/>
<text x="203.5" y="962.8" font-size="14" fill="#1c2430" textLength="38.2" lengthAdjust="spacingAndGlyphs">Today</text>
<circle cx="260.5" cy="957.3" r="6.2" fill="#98c83c"/>
<text x="272.7" y="962.8" font-size="14" fill="#1c2430" textLength="62.8" lengthAdjust="spacingAndGlyphs">Yesterday</text>
<rect x="540.00" y="691.00" width="519.40" height="297.00" fill="#ffffff"/>
<text x="553.8" y="721.2" font-size="19" fill="#1b2230" textLength="266.6" lengthAdjust="spacingAndGlyphs" stroke="#1b2230" stroke-width="0.25">Bytes Out - Today Vs Yesterday</text>
<line x1="591.8" y1="750.6" x2="1014.5" y2="750.6" stroke="#e1e6ed" stroke-width="1.2"/>
<line x1="591.8" y1="800.6" x2="1014.5" y2="800.6" stroke="#e1e6ed" stroke-width="1.2"/>
<line x1="591.8" y1="850.6" x2="1014.5" y2="850.6" stroke="#e1e6ed" stroke-width="1.2"/>
<line x1="591.8" y1="901.0" x2="1014.5" y2="901.0" stroke="#e1e6ed" stroke-width="1.2"/>
<text transform="translate(585.7,755.2) scale(0.9,1)" font-size="14.2" fill="#a0afc1" text-anchor="end">15M</text>
<text transform="translate(585.7,805.2) scale(0.9,1)" font-size="14.2" fill="#a0afc1" text-anchor="end">10M</text>
<text transform="translate(585.7,855.2) scale(0.9,1)" font-size="14.2" fill="#a0afc1" text-anchor="end">5M</text>
<text transform="translate(585.7,905.6) scale(0.9,1)" font-size="14.2" fill="#a0afc1" text-anchor="end">0</text>
<text transform="translate(1021.0,755.2) scale(0.9,1)" font-size="14.2" fill="#a0afc1">50</text>
<text transform="translate(1021.0,830.1) scale(0.9,1)" font-size="14.2" fill="#a0afc1">0</text>
<text transform="translate(1021.0,905.6) scale(0.9,1)" font-size="14.2" fill="#a0afc1">-50</text>
<line x1="643.0" y1="901" x2="643.0" y2="906" stroke="#6b7078" stroke-width="1"/>
<text x="643.0" y="916.3" font-size="12.2" fill="#a0afc1" text-anchor="middle" textLength="47.8" lengthAdjust="spacingAndGlyphs">06:00 PM</text>
<line x1="744.7" y1="901" x2="744.7" y2="906" stroke="#6b7078" stroke-width="1"/>
<text x="744.7" y="916.3" font-size="12.2" fill="#a0afc1" text-anchor="middle" textLength="47.8" lengthAdjust="spacingAndGlyphs">12:00 AM</text>
<text x="744.7" y="928.9" font-size="12.2" fill="#a0afc1" text-anchor="middle" textLength="49.0" lengthAdjust="spacingAndGlyphs">29 Jan 21</text>
<line x1="846.4" y1="901" x2="846.4" y2="906" stroke="#6b7078" stroke-width="1"/>
<text x="846.4" y="916.3" font-size="12.2" fill="#a0afc1" text-anchor="middle" textLength="47.8" lengthAdjust="spacingAndGlyphs">06:00 AM</text>
<line x1="948.1" y1="901" x2="948.1" y2="906" stroke="#6b7078" stroke-width="1"/>
<text x="948.1" y="916.3" font-size="12.2" fill="#a0afc1" text-anchor="middle" textLength="47.8" lengthAdjust="spacingAndGlyphs">12:00 PM</text>
<polyline points="599.0,795.9 600.7,812.1 602.3,804.8 604.3,818.6 606.2,800.9 608.3,820.5 609.8,802.4 611.6,819.5 613.2,804.0 614.8,816.2 616.4,798.5 618.0,822.5 619.9,795.4 621.8,813.1 623.7,800.3 625.5,822.7 627.5,803.9 629.1,813.3 631.0,801.9 633.1,824.3 634.7,800.3 636.6,817.9 638.7,795.2 640.5,823.8 642.6,801.6 644.2,820.3 645.9,804.1 647.6,814.7 649.4,805.0 651.2,820.3 653.1,801.8 654.5,817.2 656.6,801.7 658.6,825.4 660.1,804.5 661.9,812.0 663.5,801.4 665.2,824.2 666.9,805.2 668.7,825.2 670.8,797.1 672.8,813.6 674.5,806.5 676.3,812.3 677.7,807.8 679.8,825.5 681.5,799.0 683.4,812.7 685.3,797.0 686.8,822.6 688.4,807.9 690.4,820.4 692.3,798.1 694.4,812.6 696.5,801.9 698.4,819.6 700.1,797.2 701.8,821.0 703.4,805.3 705.4,812.4 706.9,806.0 708.7,813.9 710.5,802.1 712.5,818.7 714.6,795.2 716.7,821.9 718.4,796.3 719.9,821.8 721.9,801.9 723.4,813.4 725.1,796.4 726.8,812.4 728.4,802.2 730.4,812.2 732.1,799.3 733.7,817.7 735.1,797.5 736.7,824.0 738.4,804.0 740.4,821.7 742.1,799.1 744.0,817.0 745.6,799.8 747.1,820.5 748.8,795.8 750.5,812.9 752.3,802.2 754.4,814.1 756.3,805.3 757.9,818.3 759.8,796.5 761.5,824.7 763.6,806.8 765.1,821.4 767.1,799.1 768.7,821.5 770.4,806.9 772.0,824.1 774.0,800.0 775.9,824.6 777.9,798.7 779.4,820.3 781.4,803.0 783.0,821.2 785.0,800.1 786.9,821.4 789.0,795.2 791.2,822.2 792.7,797.1 794.4,820.6 796.3,800.4 798.3,819.3 800.2,804.1 802.2,814.2 803.7,801.1 805.8,824.5 807.6,796.9 809.5,823.9 811.5,797.3 812.9,818.5 814.6,799.2 816.5,822.8 818.4,806.9 820.3,814.2 822.1,798.9 824.2,817.9 825.9,806.1 828.0,817.1 829.6,799.2 831.1,821.0 832.6,807.9 834.6,817.4 836.4,805.8 838.0,821.5 840.0,801.7 842.1,815.5 843.5,798.0 845.7,816.7 847.4,795.9 849.1,815.5 850.9,795.4 852.4,812.2 854.5,805.1 856.1,816.1 857.7,801.4 859.5,822.1 861.4,795.5 863.3,812.4 865.0,795.7 866.7,814.1 868.7,800.3 870.7,813.1 872.3,801.4 874.1,813.5 876.0,802.2 878.0,825.6 880.0,798.5 881.9,818.6 883.4,802.9 885.0,815.2 886.9,797.9 889.0,824.6 890.6,807.7 892.1,820.8 894.2,799.3 896.2,818.8 897.8,805.5 899.6,822.8 901.7,800.4 903.9,822.4 905.8,802.2 907.8,813.8 909.4,805.6 911.5,821.5 913.5,806.8 915.6,824.8 917.3,795.6 919.0,823.9 921.0,796.9 922.6,817.6 924.0,804.2 925.8,825.1 927.8,800.7 929.4,820.2 931.5,804.9 933.1,813.9 934.7,801.7 936.2,824.7 938.0,802.0 939.9,817.8 941.7,795.7 943.9,825.9 946.0,800.9 947.5,813.5 949.3,800.4 951.1,823.2 953.3,803.8 955.2,820.4 957.1,799.8 958.7,825.5 960.7,803.6 962.2,823.2 963.9,799.7 965.6,822.6 967.2,802.3 968.7,822.5 970.3,805.3 971.9,819.1 973.4,798.3 974.8,814.8 976.6,795.3 978.3,813.7 980.0,795.7 981.8,817.5 983.5,802.5 985.1,824.7 986.7,795.1 988.6,823.6 990.4,807.8 992.2,815.3 993.7,804.3 995.7,824.9 997.3,808.0 999.4,818.8 1001.0,797.6 1002.9,819.1 1005.0,797.3" fill="none" stroke="#a3dcf6" stroke-width="2.4" stroke-linejoin="round" stroke-linecap="round"/>
<polyline points="599.0,807.7 601.1,820.3 602.9,806.2 605.2,820.6 607.5,794.6 609.6,817.6 611.5,805.0 613.8,821.8 616.1,799.9 617.8,821.0 620.0,806.7 621.6,818.2 623.4,802.5 625.7,818.5 627.4,810.2 629.7,825.0 631.3,798.7 633.0,826.9 634.7,796.3 636.5,825.3 638.3,811.7 640.1,823.5 641.9,799.3 644.2,828.0 646.0,800.3 647.6,817.5 649.5,803.4 651.6,819.5 653.3,804.0 655.2,819.5 657.5,804.6 659.2,827.4 661.5,801.0 663.9,816.4 666.3,797.0 668.5,823.8 670.9,799.4 673.0,827.2 674.7,797.3 676.8,816.7 678.4,794.3 680.3,823.4 682.3,804.9 683.9,816.3 685.9,796.8 687.6,815.8 689.7,811.3 691.7,815.1 693.4,806.3 695.7,817.7 697.6,794.7 699.7,824.8 701.7,808.1 703.5,823.7 705.4,804.9 707.1,820.9 709.2,798.2 711.2,815.3 713.2,810.9 715.3,821.6 717.6,806.5 719.6,819.9 721.9,804.2 723.9,819.8 725.6,797.4 727.7,822.0 729.9,802.1 731.8,822.2 733.6,811.3 735.7,818.9 737.7,809.1 740.1,824.1 742.4,808.5 744.3,820.4 746.2,794.9 748.3,822.2 750.5,800.1 752.9,824.6 755.0,798.1 757.3,823.9 759.4,797.5 761.2,817.6 763.5,802.0 765.7,824.0 767.9,799.2 769.7,827.5 771.4,812.0 773.3,815.3 775.2,807.8 777.1,816.8 778.8,794.9 780.8,819.8 783.0,796.3 784.8,822.2 786.7,806.5 788.5,824.8 790.6,801.4 792.8,819.5 795.1,807.3 796.9,826.1 799.0,809.6 801.2,826.9 803.2,800.2 805.4,827.0 807.4,806.9 809.5,819.3 811.3,805.2 813.0,820.8 815.2,800.9 817.2,827.6 819.3,803.7 821.0,824.7 822.9,806.9 825.3,825.8 827.0,810.7 829.2,817.3 830.8,798.5 832.9,821.3 834.5,811.1 836.1,825.9 838.1,808.4 840.4,824.0 842.3,803.3 844.0,818.4 845.7,800.6 848.0,824.4 849.6,800.2 851.6,821.8 853.6,809.1 855.3,823.3 857.5,794.3 859.2,816.5 861.3,809.5 863.6,825.9 865.6,805.1 867.8,818.9 869.7,796.4 871.6,819.8 874.0,797.8 876.0,815.8 877.6,803.3 879.7,821.8 882.1,802.6 884.2,826.4 885.9,807.9 887.6,826.5 889.8,808.1 892.1,815.6 893.7,801.5 895.4,826.8 897.1,798.2 899.3,816.4 901.6,800.3 903.6,825.9 905.3,798.6 907.2,824.2 909.0,801.6 910.8,822.7 912.7,805.7 914.3,822.3 916.7,798.3 918.5,825.0 920.2,803.2 922.1,817.2 924.0,808.4 926.1,818.2 928.2,811.9 929.9,824.5 931.6,798.7 933.3,822.5 935.4,806.8 937.5,822.8 939.3,798.8 941.0,827.8 942.6,809.3 944.5,826.1 946.5,811.0 948.7,825.1 950.3,806.2 951.9,822.9 953.9,796.6 955.8,819.0 957.8,805.1 959.5,821.1 961.4,810.4 963.8,818.5 965.7,802.2 967.5,827.3 969.8,797.2 972.1,825.9 974.4,801.5 976.0,824.1 977.7,806.9 979.4,822.4 981.1,804.6 982.9,815.8 985.2,807.5 987.3,819.5 989.2,804.2 991.0,823.9 992.7,796.9 994.5,821.6 996.6,806.8 998.7,820.6 1001.0,803.5 1002.9,817.8 1005.1,794.9" fill="none" stroke="#98c83c" stroke-width="2.4" stroke-linejoin="round" stroke-linecap="round"/>
<polyline points="599.0,815.3 600.7,808.6 602.4,824.3 604.1,860.2 605.7,818.8 607.0,807.4 608.5,829.9 609.9,853.0 611.3,824.5 612.6,799.5 614.0,818.5 615.2,830.5 616.8,820.7 618.5,800.1 620.2,819.9 621.6,851.8 623.4,817.2 625.1,802.5 626.3,827.1 627.5,850.5 628.9,824.9 630.4,792.9 631.9,825.9 633.4,862.0 635.2,827.3 637.0,817.8 638.6,825.7 640.2,862.6 641.6,826.7 643.1,803.6 644.6,816.1 646.3,863.4 647.7,816.3 649.1,814.1 650.6,819.4 651.9,838.0 653.7,821.3 654.9,798.8 656.6,825.7 657.9,833.7 659.4,824.8 660.8,806.3 662.0,829.0 663.5,844.7 664.9,815.6 666.7,802.3 668.0,820.2 669.2,854.5 670.8,823.0 672.2,807.4 673.5,823.9 675.1,848.6 676.4,814.7 677.8,816.6 679.3,829.1 681.0,834.5 682.4,822.9 684.0,792.8 685.4,823.6 686.6,840.6 688.4,820.3 689.9,797.2 691.7,827.7 693.5,853.5 695.2,819.3 696.6,809.6 697.9,825.0 699.4,845.6 701.1,824.1 702.5,809.2 703.9,821.4 705.1,846.6 706.5,820.3 707.9,812.5 709.3,821.1 711.1,854.0 712.3,816.4 713.8,808.7 715.0,826.6 716.5,854.0 718.1,823.5 719.4,806.6 720.7,824.0 722.5,828.3 724.3,826.6 725.5,793.3 727.3,819.6 728.8,845.5 730.2,821.9 731.9,790.6 733.4,829.4 735.1,851.1 736.8,825.6 738.1,797.3 739.8,828.7 741.2,835.7 742.7,816.6 743.9,807.0 745.4,824.6 747.2,839.7 748.8,816.2 750.1,814.3 751.7,821.1 753.0,852.2 754.7,815.2 756.2,797.3 757.9,829.5 759.5,831.9 761.2,817.2 762.5,817.9 764.0,825.6 765.7,851.3 767.1,818.8 768.8,798.4 770.2,825.1 771.7,829.8 773.0,814.1 774.2,803.3 776.0,817.8 777.7,852.2 779.2,815.5 780.5,814.9 782.1,826.3 783.8,853.7 785.5,823.3 787.0,806.6 788.4,826.2 790.0,840.0 791.6,815.5 793.2,806.7 794.6,828.0 796.1,848.9 797.5,822.7 799.0,816.3 800.4,818.6 802.0,852.6 803.5,816.1 805.0,797.9 806.4,823.8 808.1,831.5 809.4,821.0 811.1,814.1 812.8,821.5 814.0,844.8 815.3,817.7 816.7,796.2 818.3,820.8 819.7,845.3 820.9,822.3 822.1,815.3 823.4,824.6 824.9,846.6 826.5,820.1 828.2,807.2 829.4,817.7 830.7,848.2 832.0,820.8 833.5,815.5 834.8,820.9 836.0,830.6 837.6,814.6 839.0,816.6 840.3,825.4 841.9,843.8 843.4,827.1 845.1,812.8 846.8,829.9 848.4,838.5 849.6,818.9 851.2,805.6 852.9,817.3 854.2,854.2 855.8,817.1 857.2,795.0 858.8,826.4 860.2,837.2 861.5,821.9 862.8,810.0 864.5,822.8 866.1,849.7 867.9,821.7 869.5,812.5 870.8,817.7 872.3,844.1 873.9,812.0 875.6,806.8 877.3,824.0 879.0,843.2 880.7,821.0 882.1,808.3 883.9,815.4 885.1,833.7 886.6,819.2 887.8,811.8 889.6,820.6 891.3,833.3 892.6,814.0 894.4,811.4 895.6,827.9 897.4,832.2 899.1,812.2 900.5,800.9 901.8,827.6 903.5,835.7 904.7,814.8 906.5,815.7 907.7,814.2 909.2,846.5 911.0,816.5 912.8,805.0 914.1,819.8 915.7,828.0 917.0,812.3 918.5,800.2 920.2,821.1 921.9,829.5 923.6,816.0 925.1,805.6 926.6,822.3 928.4,833.1 929.8,823.4 931.6,804.4 933.3,819.9 934.7,832.5 936.3,821.2 938.1,809.3 939.8,827.5 941.2,835.9 942.5,812.7 944.2,796.4 945.5,821.8 947.0,845.3 948.5,814.0 950.3,804.4 951.7,825.7 953.1,843.0 954.8,814.3 956.2,795.4 957.5,826.5 959.0,835.8 960.3,821.1 961.6,810.9 963.2,825.9 964.9,838.7 966.4,819.2 968.0,814.2 969.5,820.3 971.3,832.2 972.8,822.5 974.4,798.5 975.9,817.3 977.2,843.4 978.7,820.2 980.1,807.1 981.8,825.3 983.1,837.4 984.7,819.6 986.4,812.5 988.2,814.4 989.6,844.8 991.3,822.3 992.8,803.2 994.2,824.7 995.6,830.0 997.2,816.4 998.6,807.7 1000.3,823.5 1002.1,846.8 1003.5,814.6 1004.8,807.2 1006.4,824.5 1006.5,866.0" fill="none" stroke="#429fd4" stroke-width="2.8" stroke-linejoin="round" stroke-linecap="round"/>
<circle cx="566.1" cy="957.3" r="6.2" fill="#429fd4"/>
<text x="578.9" y="962.8" font-size="14" fill="#1c2430" textLength="124.5" lengthAdjust="spacingAndGlyphs">Percentage Change</text>
<circle cx="721.7" cy="957.3" r="6.2" fill="#a3dcf6"/>
<text x="733.5" y="962.8" font-size="14" fill="#1c2430" textLength="38.2" lengthAdjust="spacingAndGlyphs">Today</text>
<circle cx="790.5" cy="957.3" r="6.2" fill="#98c83c"/>
<text x="802.7" y="962.8" font-size="14" fill="#1c2430" textLength="62.8" lengthAdjust="spacingAndGlyphs">Yesterday</text>
<g transform="translate(947.2,714.5) scale(0.95)" fill="none" stroke="#7d92ab" stroke-width="2.2"><path d="M -7.1 -0.2 A 7.1 7.1 0 0 1 5.0 -5.0"/><path d="M 7.1 0.2 A 7.1 7.1 0 0 1 -5.0 5.0"/></g><g transform="translate(947.2,714.5) scale(0.95)" fill="#7d92ab"><polygon points="8,-8 8,-2 2,-2"/><polygon points="-8,8 -8,2 -2,2"/></g>
<g fill="none" stroke="#7b90aa" stroke-width="1.9"><circle cx="972.3" cy="714.3" r="7.0"/><polyline points="972.6,709.7 972.6,714.9 969.1,714.9"/></g>
<text x="988.0" y="720.5" font-size="19" fill="#3f5b7b" textLength="38.0" lengthAdjust="spacingAndGlyphs">-24h</text>
<circle cx="1036.6" cy="708.5" r="2.1" fill="#7d8fa6"/>
<circle cx="1036.6" cy="714.3" r="2.1" fill="#7d8fa6"/>
<circle cx="1036.6" cy="720.1" r="2.1" fill="#7d8fa6"/>
<polyline points="1045,985 1057,985 1057,974.5" fill="none" stroke="#5b6b7d" stroke-width="1.6"/>
<rect x="1068.70" y="691.00" width="519.30" height="297.00" fill="#ffffff"/>
<text x="1082.5" y="721.2" font-size="19" fill="#1b2230" textLength="441.4" lengthAdjust="spacingAndGlyphs" stroke="#1b2230" stroke-width="0.25">Net Difference of In and Out (Bytes) Network Traffic</text>
<line x1="1122.4" y1="750.6" x2="1534.2" y2="750.6" stroke="#e1e6ed" stroke-width="1.2"/>
<line x1="1122.4" y1="825.8" x2="1534.2" y2="825.8" stroke="#e1e6ed" stroke-width="1.2"/>
<line x1="1122.4" y1="901.0" x2="1534.2" y2="901.0" stroke="#e1e6ed" stroke-width="1.2"/>
<text transform="translate(1115.7,755.2) scale(0.9,1)" font-size="14.2" fill="#a0afc1" text-anchor="end">50k</text>
<text transform="translate(1115.7,830.4) scale(0.9,1)" font-size="14.2" fill="#a0afc1" text-anchor="end">0</text>
<text transform="translate(1115.7,905.6) scale(0.9,1)" font-size="14.2" fill="#a0afc1" text-anchor="end">-50k</text>
<text transform="translate(1541.0,755.2) scale(0.9,1)" font-size="14.2" fill="#a0afc1">50k</text>
<text transform="translate(1541.0,830.4) scale(0.9,1)" font-size="14.2" fill="#a0afc1">0</text>
<text transform="translate(1541.0,905.6) scale(0.9,1)" font-size="14.2" fill="#a0afc1">-50k</text>
<line x1="1172.0" y1="901" x2="1172.0" y2="906" stroke="#6b7078" stroke-width="1"/>
<text x="1172.0" y="916.3" font-size="12.2" fill="#a0afc1" text-anchor="middle" textLength="47.8" lengthAdjust="spacingAndGlyphs">06:00 PM</text>
<line x1="1271.3" y1="901" x2="1271.3" y2="906" stroke="#6b7078" stroke-width="1"/>
<text x="1271.3" y="916.3" font-size="12.2" fill="#a0afc1" text-anchor="middle" textLength="47.8" lengthAdjust="spacingAndGlyphs">12:00 AM</text>
<text x="1271.3" y="928.9" font-size="12.2" fill="#a0afc1" text-anchor="middle" textLength="49.0" lengthAdjust="spacingAndGlyphs">29 Jan 21</text>
<line x1="1370.6" y1="901" x2="1370.6" y2="906" stroke="#6b7078" stroke-width="1"/>
<text x="1370.6" y="916.3" font-size="12.2" fill="#a0afc1" text-anchor="middle" textLength="47.8" lengthAdjust="spacingAndGlyphs">06:00 AM</text>
<line x1="1469.9" y1="901" x2="1469.9" y2="906" stroke="#6b7078" stroke-width="1"/>
<text x="1469.9" y="916.3" font-size="12.2" fill="#a0afc1" text-anchor="middle" textLength="47.8" lengthAdjust="spacingAndGlyphs">12:00 PM</text>
<polyline points="1129.0,823.8 1130.8,781.1 1132.4,821.8 1134.1,857.0 1136.0,821.9 1137.9,794.2 1139.4,825.6 1141.3,851.9 1142.8,826.6 1144.6,811.5 1146.4,828.7 1148.3,839.4 1150.1,824.5 1152.0,799.6 1153.3,830.3 1155.1,840.7 1157.0,821.0 1158.9,803.1 1160.1,828.7 1161.6,836.4 1163.0,820.0 1164.6,809.3 1166.5,823.6 1167.8,835.1 1169.5,820.3 1171.4,779.0 1173.1,825.9 1174.5,862.2 1176.0,820.7 1177.7,788.1 1179.6,823.6 1181.0,844.3 1182.3,826.2 1183.8,809.1 1185.5,830.3 1187.2,840.6 1189.1,826.1 1190.7,806.9 1192.6,822.9 1193.9,842.2 1195.4,821.0 1196.8,801.1 1198.2,829.4 1199.9,851.8 1201.6,819.7 1203.4,814.4 1205.0,829.1 1206.6,853.2 1208.2,828.3 1209.7,808.2 1211.4,824.8 1212.9,871.3 1214.5,830.3 1216.1,791.7 1218.0,825.4 1219.5,859.9 1221.1,819.4 1222.5,809.1 1224.2,824.5 1225.7,841.9 1227.5,823.3 1228.9,810.9 1230.7,822.8 1232.2,837.7 1233.5,830.5 1234.8,810.0 1236.2,822.2 1238.1,836.2 1240.0,824.8 1241.5,804.7 1243.4,821.0 1245.0,838.8 1246.7,821.7 1248.5,803.7 1250.4,830.0 1252.1,865.1 1253.7,827.1 1255.3,780.2 1256.7,820.3 1258.3,860.6 1259.5,828.5 1261.0,792.4 1262.7,826.2 1264.1,848.1 1265.9,822.9 1267.8,798.8 1269.6,825.7 1271.2,835.3 1272.8,831.0 1274.7,814.0 1276.6,821.1 1278.2,838.4 1279.6,826.4 1281.4,807.7 1283.2,825.2 1284.6,837.1 1286.4,824.5 1288.3,808.9 1289.6,829.6 1291.4,854.8 1292.9,829.5 1294.3,778.1 1296.0,822.3 1297.3,859.3 1299.1,825.0 1300.9,793.4 1302.4,819.7 1303.8,851.3 1305.6,827.9 1307.1,804.3 1308.5,819.7 1310.3,838.4 1312.0,829.8 1313.3,809.0 1314.7,821.2 1316.6,848.1 1318.3,823.6 1320.0,804.9 1321.4,821.8 1322.8,841.1 1324.4,826.2 1325.8,809.2 1327.5,826.0 1328.9,843.8 1330.5,829.5 1331.9,811.9 1333.6,828.8 1334.9,867.4 1336.6,823.0 1337.9,777.8 1339.6,821.8 1341.0,857.2 1342.6,827.5 1344.5,814.8 1346.2,828.7 1347.6,840.1 1349.4,826.5 1351.3,810.6 1353.1,829.6 1354.7,835.3 1356.5,828.6 1358.4,802.0 1360.1,820.6 1361.4,852.8 1363.1,826.4 1364.8,811.2 1366.6,830.1 1368.4,842.3 1369.8,825.8 1371.2,798.0 1373.1,823.9 1374.8,872.6 1376.4,826.7 1378.3,780.9 1380.1,819.4 1381.8,861.7 1383.4,822.2 1385.3,801.2 1386.6,819.5 1388.4,835.5 1390.1,824.2 1391.9,812.0 1393.8,825.3 1395.4,855.0 1396.9,824.0 1398.2,794.1 1399.8,824.4 1401.6,862.0 1403.0,826.5 1404.6,789.4 1406.1,823.0 1407.7,857.4 1409.0,825.6 1410.8,791.1 1412.5,823.9 1414.1,856.0 1415.9,825.1 1417.8,797.4 1419.7,819.0 1421.1,853.7 1422.7,825.4 1424.4,789.2 1426.1,820.1 1427.9,853.7 1429.8,826.8 1431.1,794.2 1433.0,825.5 1434.6,863.4 1436.5,821.9 1437.9,788.6 1439.5,828.7 1440.7,852.8 1442.2,827.7 1444.1,797.2 1445.4,828.2 1447.0,859.2 1448.6,821.9 1450.1,797.0 1451.9,821.5 1453.2,862.6 1455.1,819.7 1456.8,793.8 1458.2,829.5 1459.5,852.2 1460.9,820.7 1462.2,791.1 1463.8,826.3 1465.2,863.2 1466.6,826.3 1468.0,799.9 1469.7,819.4 1471.2,859.0 1472.9,829.0 1474.7,793.1 1476.3,827.9 1477.9,851.5 1479.7,828.3 1481.5,798.6 1483.2,823.7 1485.0,860.5 1486.7,819.1 1488.4,791.0 1490.3,826.4 1491.9,863.6 1493.8,826.9 1495.1,791.6 1497.0,827.2 1498.3,859.5 1499.6,828.6 1501.5,798.9 1503.2,828.3 1504.8,861.2 1506.5,824.2 1508.2,797.3 1510.1,823.0 1511.6,852.6 1513.5,825.6 1514.9,790.8 1516.7,826.0 1518.5,850.3 1520.3,830.1 1521.7,798.9 1523.3,825.4 1524.9,855.0 1526.5,827.0" fill="none" stroke="#a3dcf6" stroke-width="2.6" stroke-linejoin="round" stroke-linecap="round"/>
<polyline points="1129.0,819.7 1131.2,836.0 1133.4,813.5 1135.2,834.6 1137.4,818.2 1139.5,839.7 1141.3,817.3 1143.1,833.0 1145.0,819.8 1147.3,836.0 1149.9,819.6 1152.0,838.8 1154.0,817.6 1156.5,834.4 1158.8,817.8 1160.6,837.9 1162.6,814.3 1164.5,833.6 1167.1,815.5 1169.6,832.2 1171.6,812.1 1173.8,839.6 1176.0,817.8 1177.9,831.5 1179.9,819.6 1182.2,839.4 1184.7,814.1 1186.6,836.5 1188.5,815.9 1190.7,833.3 1193.3,812.5 1195.9,831.4 1198.5,815.3 1200.4,836.6 1202.8,815.2 1205.0,837.0 1207.0,814.5 1209.4,835.1 1211.9,815.6 1214.3,835.9 1216.2,814.9 1218.5,835.3 1220.9,817.4 1223.2,833.2 1225.8,819.3 1227.8,839.1 1230.0,814.2 1231.8,837.2 1234.2,817.3 1236.3,831.9 1238.1,816.9 1240.4,839.6 1242.9,816.4 1245.5,831.1 1248.1,816.1 1250.3,836.5 1252.3,816.0 1254.9,837.2 1257.4,815.9 1259.4,835.4 1261.8,814.5 1264.1,837.0 1266.2,812.0 1268.5,833.7 1271.2,812.1 1273.6,836.3 1276.1,818.7 1278.6,837.5 1281.0,817.9 1283.4,835.3 1285.5,813.4 1287.6,835.7 1290.1,813.9 1292.7,838.0 1294.7,817.4 1297.3,839.0 1299.8,814.7 1301.9,834.5 1303.9,815.6 1306.4,837.6 1308.4,817.3 1310.7,831.9 1312.6,814.1 1314.4,837.2 1316.8,814.9 1319.4,834.7 1321.3,815.4 1323.4,832.6 1325.5,817.6 1327.8,831.8 1330.1,816.8 1332.0,833.6 1334.4,818.3 1336.8,834.0 1339.3,816.3 1341.7,833.6 1343.7,813.1 1345.6,837.3 1347.4,817.3 1349.6,833.9 1351.7,818.8 1354.0,834.9 1356.3,816.6 1358.1,833.0 1360.6,818.5 1363.0,839.7 1365.4,817.2 1367.9,832.5 1370.0,818.2 1371.9,836.9 1373.8,812.6 1375.8,837.4 1378.3,815.6 1380.6,834.5 1382.7,813.5 1384.8,839.5 1387.1,815.6 1389.4,836.5 1391.8,816.1 1394.0,833.6 1396.4,819.3 1398.7,831.9 1400.8,817.2 1402.7,838.9 1404.6,819.3 1407.0,836.2 1409.3,819.2 1411.5,839.2 1414.1,812.9 1416.6,835.7 1419.2,813.2 1421.6,835.4 1424.0,815.1 1425.9,836.1 1428.4,815.0 1430.5,837.4 1432.6,812.1 1434.8,832.8 1437.3,817.5 1439.6,835.2 1441.6,815.4 1444.0,834.0 1446.4,813.8 1448.4,839.8 1450.4,814.4 1452.6,838.1 1455.2,814.1 1457.8,835.5 1459.8,812.4 1461.7,834.1 1463.8,817.0 1466.3,839.8 1468.9,817.7 1471.2,838.2 1473.8,814.6 1476.0,831.8 1478.4,819.8 1481.0,835.7 1483.3,818.4 1485.3,838.9 1487.3,818.6 1489.5,836.4 1492.0,812.7 1494.5,833.2 1496.7,814.6 1499.0,832.2 1501.3,818.3 1503.3,836.6 1505.9,815.5 1507.9,831.8 1510.0,819.2 1512.6,834.7 1515.0,812.3 1517.0,838.4 1519.6,817.2 1521.6,835.0 1523.5,812.4 1525.7,837.4" fill="none" stroke="#98c83c" stroke-width="2.6" stroke-linejoin="round" stroke-linecap="round"/>
<polyline points="1129.0,817.4 1130.8,787.4 1132.6,829.4 1133.9,855.1 1135.4,821.9 1137.0,792.4 1138.4,824.5 1140.0,843.9 1141.3,821.7 1142.8,799.5 1144.5,826.1 1145.8,850.8 1147.2,821.1 1148.5,806.2 1150.2,826.4 1151.8,846.0 1153.4,820.0 1155.2,798.2 1156.9,830.0 1158.6,849.5 1160.2,826.7 1161.9,815.4 1163.6,822.2 1165.1,850.0 1166.6,820.2 1168.2,800.5 1169.9,829.9 1171.6,867.4 1173.1,819.2 1174.9,788.7 1176.6,825.7 1178.0,852.3 1179.6,817.9 1181.1,815.9 1182.3,821.0 1183.9,832.5 1185.7,824.6 1187.0,803.7 1188.2,821.0 1189.7,849.1 1191.4,817.5 1193.1,814.9 1194.4,824.9 1195.7,840.2 1197.0,822.4 1198.4,809.6 1199.8,823.8 1201.4,840.4 1202.9,820.6 1204.4,816.4 1205.8,824.1 1207.1,838.3 1208.7,822.8 1210.3,812.9 1211.9,819.8 1213.7,863.7 1215.1,821.0 1216.8,793.4 1218.6,829.9 1220.1,857.4 1221.3,826.8 1222.7,811.3 1224.3,824.1 1225.8,838.4 1227.2,828.0 1228.4,817.6 1230.0,819.0 1231.4,837.4 1232.6,821.7 1234.4,800.8 1235.6,829.9 1237.3,849.2 1238.7,820.8 1239.9,803.2 1241.6,821.3 1243.4,846.5 1245.0,822.1 1246.7,807.0 1248.4,829.0 1249.6,833.0 1250.9,828.1 1252.3,786.0 1253.9,824.6 1255.3,867.5 1256.8,826.2 1258.1,793.0 1259.6,824.1 1260.9,858.0 1262.2,826.2 1263.7,817.8 1265.4,827.0 1266.7,835.6 1268.5,822.4 1270.0,809.6 1271.2,818.9 1272.6,834.5 1274.0,821.7 1275.7,817.4 1277.3,821.0 1278.8,838.8 1280.1,825.6 1281.3,801.7 1282.7,819.4 1284.3,845.4 1286.1,819.6 1287.3,799.5 1288.7,825.5 1290.2,851.6 1291.8,826.7 1293.1,782.6 1294.6,827.2 1296.2,862.1 1297.6,824.4 1298.9,796.4 1300.3,823.5 1302.0,858.5 1303.6,825.1 1305.4,800.8 1306.9,818.4 1308.3,837.4 1309.9,821.8 1311.2,804.9 1312.6,823.7 1314.4,848.3 1315.6,823.1 1317.2,813.9 1318.6,827.5 1320.4,846.1 1321.9,825.1 1323.6,816.2 1324.9,825.3 1326.6,850.5 1328.0,821.2 1329.6,809.9 1330.9,823.8 1332.5,837.7 1334.1,823.9 1335.6,786.8 1337.4,818.7 1338.7,864.1 1340.2,820.1 1342.0,796.8 1343.7,824.7 1345.3,849.0 1346.8,817.4 1348.2,817.6 1349.4,818.9 1350.7,849.6 1352.3,820.0 1353.6,817.4 1355.0,823.4 1356.8,839.7 1358.3,824.2 1359.6,813.1 1361.0,822.2 1362.5,840.4 1364.3,824.3 1365.6,811.3 1367.3,818.2 1368.8,841.4 1370.1,826.2 1371.8,812.0 1373.3,821.1 1374.9,832.1 1376.4,818.1 1378.0,784.3 1379.5,826.3 1380.8,858.4 1382.5,820.2 1384.1,794.7 1385.8,825.5 1387.3,835.8 1388.7,823.2 1389.9,810.9 1391.3,825.9 1392.9,833.9 1394.3,827.1 1395.5,799.9 1396.8,821.2 1398.5,851.2 1400.3,817.9 1401.9,797.6 1403.2,827.2 1404.5,853.9 1406.1,818.1 1407.6,801.0 1409.4,829.1 1410.8,857.9 1412.2,822.4 1413.7,795.3 1415.3,829.6 1416.7,857.0 1417.9,822.6 1419.2,802.4 1421.0,820.4 1422.7,854.3 1424.2,823.1 1425.7,800.7 1427.1,826.3 1428.7,846.9 1430.1,823.3 1431.8,803.5 1433.5,826.7 1435.0,846.2 1436.4,826.3 1438.0,802.8 1439.5,822.3 1441.2,846.0 1442.5,819.2 1444.2,793.5 1445.9,823.3 1447.5,858.0 1449.2,824.4 1450.5,797.6 1452.1,827.7 1453.4,855.2 1455.0,820.3 1456.4,791.2 1457.8,823.8 1459.1,845.0 1460.6,825.2 1462.0,799.7 1463.7,823.1 1465.1,849.2 1466.6,828.9 1468.0,798.5 1469.3,819.9 1470.7,852.2 1472.3,824.2 1473.9,802.7 1475.2,820.7 1476.4,847.8 1477.7,826.7 1479.2,793.9 1480.9,824.2 1482.7,852.2 1484.0,826.7 1485.4,799.1 1487.0,824.8 1488.3,848.1 1490.1,824.9 1491.9,804.7 1493.1,826.3 1494.8,856.5 1496.1,827.8 1497.4,801.0 1498.9,823.0 1500.4,847.9 1501.8,824.9 1503.6,801.3 1505.1,818.9 1506.8,855.9 1508.2,827.8 1509.6,799.8 1511.2,828.9 1512.7,846.4 1514.4,820.1 1515.9,796.0 1517.3,826.3 1518.7,848.6 1520.1,818.6 1521.3,795.1 1522.7,826.4 1524.1,848.4 1525.4,822.1" fill="none" stroke="#429fd4" stroke-width="3.0" stroke-linejoin="round" stroke-linecap="round"/>
<circle cx="1093.7" cy="957.3" r="6.2" fill="#a3dcf6"/>
<text x="1106.6" y="962.8" font-size="14" fill="#1c2430" textLength="48.5" lengthAdjust="spacingAndGlyphs">BytesIn</text>
<circle cx="1172.0" cy="957.3" r="6.2" fill="#98c83c"/>
<text x="1184.9" y="962.8" font-size="14" fill="#1c2430" textLength="58.6" lengthAdjust="spacingAndGlyphs">BytesOut</text>
<circle cx="1261.8" cy="957.3" r="6.2" fill="#429fd4"/>
<text x="1273.6" y="962.8" font-size="14" fill="#1c2430" textLength="91.8" lengthAdjust="spacingAndGlyphs">Net Difference</text>
<rect x="10.00" y="1000.00" width="520.00" height="297.50" fill="#ffffff"/>
<text x="24.6" y="1030.2" font-size="19" fill="#1b2230" textLength="273.4" lengthAdjust="spacingAndGlyphs" stroke="#1b2230" stroke-width="0.25">Packets In - Today Vs Yesterday</text>
<line x1="70.9" y1="1059.8" x2="475.9" y2="1059.8" stroke="#e1e6ed" stroke-width="1.2"/>
<line x1="70.9" y1="1110.0" x2="475.9" y2="1110.0" stroke="#e1e6ed" stroke-width="1.2"/>
<line x1="70.9" y1="1160.2" x2="475.9" y2="1160.2" stroke="#e1e6ed" stroke-width="1.2"/>
<line x1="70.9" y1="1210.5" x2="475.9" y2="1210.5" stroke="#e1e6ed" stroke-width="1.2"/>
<text transform="translate(64.0,1064.4) scale(0.9,1)" font-size="14.2" fill="#a0afc1" text-anchor="end">15k</text>
<text transform="translate(64.0,1114.6) scale(0.9,1)" font-size="14.2" fill="#a0afc1" text-anchor="end">10k</text>
<text transform="translate(64.0,1164.8) scale(0.9,1)" font-size="14.2" fill="#a0afc1" text-anchor="end">5,000</text>
<text transform="translate(64.0,1215.1) scale(0.9,1)" font-size="14.2" fill="#a0afc1" text-anchor="end">0</text>
<text transform="translate(482.6,1064.4) scale(0.9,1)" font-size="14.2" fill="#a0afc1">100</text>
<text transform="translate(482.6,1102.1) scale(0.9,1)" font-size="14.2" fill="#a0afc1">50</text>
<text transform="translate(482.6,1139.8) scale(0.9,1)" font-size="14.2" fill="#a0afc1">0</text>
<text transform="translate(482.6,1177.5) scale(0.9,1)" font-size="14.2" fill="#a0afc1">-50</text>
<text transform="translate(482.6,1215.1) scale(0.9,1)" font-size="14.2" fill="#a0afc1">-100</text>
<line x1="470.9" y1="1097.5" x2="475.9" y2="1097.5" stroke="#dfe4ea" stroke-width="1.2"/>
<line x1="470.9" y1="1135.2" x2="475.9" y2="1135.2" stroke="#dfe4ea" stroke-width="1.2"/>
<line x1="470.9" y1="1172.9" x2="475.9" y2="1172.9" stroke="#dfe4ea" stroke-width="1.2"/>
<line x1="120.3" y1="1210.5" x2="120.3" y2="1215.5" stroke="#6b7078" stroke-width="1"/>
<text x="120.3" y="1225.8" font-size="12.2" fill="#a0afc1" text-anchor="middle" textLength="47.8" lengthAdjust="spacingAndGlyphs">06:00 PM</text>
<line x1="217.7" y1="1210.5" x2="217.7" y2="1215.5" stroke="#6b7078" stroke-width="1"/>
<text x="217.7" y="1225.8" font-size="12.2" fill="#a0afc1" text-anchor="middle" textLength="47.8" lengthAdjust="spacingAndGlyphs">12:00 AM</text>
<text x="217.7" y="1238.4" font-size="12.2" fill="#a0afc1" text-anchor="middle" textLength="49.0" lengthAdjust="spacingAndGlyphs">29 Jan 21</text>
<line x1="315.1" y1="1210.5" x2="315.1" y2="1215.5" stroke="#6b7078" stroke-width="1"/>
<text x="315.1" y="1225.8" font-size="12.2" fill="#a0afc1" text-anchor="middle" textLength="47.8" lengthAdjust="spacingAndGlyphs">06:00 AM</text>
<line x1="412.5" y1="1210.5" x2="412.5" y2="1215.5" stroke="#6b7078" stroke-width="1"/>
<text x="412.5" y="1225.8" font-size="12.2" fill="#a0afc1" text-anchor="middle" textLength="47.8" lengthAdjust="spacingAndGlyphs">12:00 PM</text>
<polyline points="77.6,1124.7 78.8,1162.5 82.3,1092.4 86.5,1167.1 90.3,1097.3 94.9,1157.0 98.1,1101.4 101.9,1163.9 105.0,1105.2 108.8,1161.9 112.1,1101.3 116.3,1165.3 119.6,1090.2 123.6,1157.5 127.1,1094.7 131.4,1161.4 135.1,1103.4 139.6,1162.0 142.9,1107.1 147.0,1163.3 150.6,1098.1 155.0,1161.1 158.5,1088.7 162.7,1163.7 166.2,1091.4 170.5,1157.4 173.8,1103.8 177.8,1166.3 180.9,1103.5 184.7,1158.7 188.7,1099.3 193.6,1161.5 196.8,1093.4 200.8,1157.5 204.8,1092.3 209.6,1167.6 213.4,1101.3 218.0,1154.1 221.8,1101.5 226.5,1163.8 230.1,1095.6 234.5,1162.0 237.7,1086.2 241.6,1163.6 244.7,1098.9 248.5,1160.9 251.8,1103.7 255.9,1163.9 259.1,1101.0 262.9,1158.2 266.8,1097.8 271.5,1164.1 274.8,1092.5 278.9,1159.8 282.1,1097.4 286.0,1162.0 289.3,1102.5 293.2,1159.7 296.7,1106.0 300.8,1163.9 303.9,1099.3 307.7,1156.7 310.8,1093.7 314.7,1163.3 318.0,1093.9 322.0,1163.3 325.3,1099.2 329.4,1165.5 332.7,1101.8 336.7,1156.7 340.3,1095.3 344.7,1164.8 348.8,1089.4 353.9,1163.7 357.2,1093.3 361.1,1166.1 364.6,1103.7 368.7,1160.1 372.8,1108.3 377.7,1163.1 381.2,1099.9 385.6,1162.0 389.5,1089.8 394.2,1165.1 397.4,1096.3 401.4,1157.6 405.2,1098.9 409.9,1162.9 413.1,1106.4 417.1,1162.7 421.0,1098.3 425.9,1164.0 429.2,1093.7 433.4,1160.6 436.5,1094.6 440.4,1158.7 444.0,1100.2 448.5,1160.3 452.3,1102.5 457.1,1162.6 460.4,1100.3 464.4,1156.9 467.8,1090.4 469.0,1159.7" fill="none" stroke="#a3dcf6" stroke-width="2.8" stroke-linejoin="round" stroke-linecap="round"/>
<polyline points="77.6,1159.1 81.2,1083.9 85.5,1160.1 89.2,1085.4 93.7,1156.4 97.3,1090.6 101.8,1162.3 105.4,1101.6 109.9,1157.6 113.5,1101.6 117.9,1155.5 121.5,1081.6 125.8,1161.7 129.4,1087.5 133.9,1154.1 137.4,1088.2 141.6,1163.2 145.2,1101.7 149.6,1158.0 153.1,1101.9 157.4,1157.1 160.8,1080.3 165.1,1161.2 168.8,1085.0 173.3,1158.0 176.8,1087.1 181.0,1159.3 184.7,1101.8 189.3,1158.5 192.8,1100.6 197.0,1154.6 200.7,1080.9 205.1,1160.5 208.8,1085.7 213.3,1156.0 216.9,1088.3 221.3,1159.9 224.8,1099.5 229.1,1157.8 232.6,1098.5 236.8,1155.0 240.4,1082.3 244.8,1161.6 248.3,1084.8 252.5,1157.4 256.1,1091.1 260.5,1163.3 264.3,1098.0 268.8,1154.3 272.5,1099.7 277.0,1159.0 280.5,1083.9 284.6,1159.8 288.1,1086.5 292.4,1152.9 296.0,1091.9 300.4,1160.7 304.0,1102.7 308.4,1154.8 312.0,1098.5 316.5,1158.4 320.0,1084.0 324.3,1160.4 327.9,1083.9 332.2,1159.7 335.9,1089.1 340.5,1168.8 344.1,1099.0 348.6,1163.0 352.1,1100.8 356.4,1160.2 360.1,1081.9 364.6,1164.2 368.4,1086.0 372.9,1155.6 376.5,1087.8 380.9,1166.4 384.7,1100.8 389.2,1163.3 392.8,1098.7 397.2,1162.2 400.8,1082.9 405.3,1162.5 409.0,1085.9 413.5,1158.3 417.2,1091.8 421.7,1165.9 425.3,1098.8 429.6,1159.9 433.2,1100.5 437.6,1160.9 441.2,1081.6 445.5,1162.0 449.1,1084.4 453.4,1157.4 457.1,1088.2 461.7,1163.6 465.3,1102.0 469.0,1163.1" fill="none" stroke="#98c83c" stroke-width="2.8" stroke-linejoin="round" stroke-linecap="round"/>
<polyline points="77.6,1119.8 81.1,1177.5 85.0,1073.9 89.7,1175.7 93.5,1086.1 98.2,1177.8 102.0,1095.6 106.6,1169.8 110.5,1070.9 115.2,1171.1 118.8,1097.8 123.1,1177.5 126.2,1071.0 129.9,1174.2 132.2,1079.5 133.9,1146.6 135.4,1112.3 137.6,1180.1 140.2,1090.1 142.2,1156.7 144.0,1118.9 146.4,1168.6 150.3,1074.8 155.1,1170.7 158.2,1091.0 162.1,1178.0 165.7,1070.7 170.1,1171.2 172.6,1087.3 174.4,1133.5 176.1,1108.1 178.4,1177.2 180.5,1090.1 182.1,1139.0 183.5,1122.6 185.4,1167.4 187.5,1076.4 189.1,1126.9 190.5,1113.9 192.5,1169.4 195.0,1092.3 196.9,1140.4 198.6,1107.8 201.0,1174.7 203.4,1073.1 205.1,1146.7 206.7,1089.5 208.9,1171.3 212.9,1083.9 217.8,1178.0 221.2,1088.2 225.4,1170.2 227.8,1073.7 229.6,1131.2 231.2,1110.7 233.5,1169.7 237.6,1094.6 242.6,1173.8 245.8,1063.2 249.6,1172.0 253.7,1081.3 258.7,1179.3 262.8,1086.1 267.8,1167.0 270.4,1079.2 272.4,1119.5 274.1,1114.7 276.6,1170.2 280.3,1094.2 284.9,1175.6 287.3,1064.7 289.1,1134.8 290.7,1114.1 293.0,1170.3 297.0,1083.3 301.9,1179.5 305.8,1085.6 310.6,1168.6 312.8,1074.6 314.4,1121.2 315.8,1096.9 317.8,1170.6 321.4,1099.1 325.7,1174.2 329.7,1073.5 334.5,1171.9 336.7,1082.8 338.4,1135.9 339.0,1178.3 341.0,1113.4 342.3,1076.6 343.8,1118.0 345.1,1142.0 346.8,1122.7 348.1,1093.2 349.6,1125.5 350.8,1142.8 352.2,1114.1 353.6,1075.8 354.9,1126.7 356.3,1144.2 357.5,1113.5 359.1,1100.8 360.6,1127.3 361.7,1155.6 363.3,1116.7 364.9,1086.3 366.1,1115.5 367.8,1144.2 369.0,1116.1 370.4,1075.7 371.8,1120.2 372.9,1159.7 374.1,1120.2 375.7,1106.0 377.4,1124.2 378.8,1151.4 380.1,1127.0 381.5,1093.4 382.6,1121.9 384.3,1148.6 385.6,1118.5 387.2,1082.0 388.7,1116.5 390.1,1144.2 391.7,1113.5 392.9,1087.9 394.5,1128.7 395.8,1142.2 397.2,1124.0 398.6,1098.5 400.0,1128.4 401.4,1150.5 402.8,1127.6 404.4,1082.6 405.7,1114.0 407.1,1151.8 408.4,1120.2 409.6,1102.6 410.7,1117.5 412.2,1157.7 413.7,1113.2 415.1,1077.4 416.4,1123.3 417.7,1142.5 419.1,1123.7 420.3,1090.1 421.7,1112.3 423.2,1144.5 424.9,1125.0 426.2,1077.4 427.9,1120.7 429.5,1158.2 430.7,1122.9 432.2,1096.3 433.5,1129.6 435.0,1150.2 436.4,1118.6 437.8,1101.2 439.3,1126.5 440.5,1155.0 442.0,1119.5 443.5,1100.6 444.8,1113.6 446.2,1144.4 447.7,1127.7 449.3,1078.3 450.7,1114.8 451.9,1144.8 453.3,1120.1 454.6,1084.5 455.8,1116.8 457.5,1160.0 458.6,1125.4 460.1,1102.5 461.4,1121.6 462.8,1154.3 464.2,1121.0 465.8,1100.4 467.4,1119.5 468.6,1142.8" fill="none" stroke="#429fd4" stroke-width="3.2" stroke-linejoin="round" stroke-linecap="round"/>
<circle cx="36.1" cy="1266.7" r="6.2" fill="#429fd4"/>
<text x="48.9" y="1272.2" font-size="14" fill="#1c2430" textLength="124.5" lengthAdjust="spacingAndGlyphs">Percentage Change</text>
<circle cx="191.7" cy="1266.7" r="6.2" fill="#a3dcf6"/>
<text x="203.5" y="1272.2" font-size="14" fill="#1c2430" textLength="38.2" lengthAdjust="spacingAndGlyphs">Today</text>
<circle cx="260.5" cy="1266.7" r="6.2" fill="#98c83c"/>
<text x="272.7" y="1272.2" font-size="14" fill="#1c2430" textLength="62.8" lengthAdjust="spacingAndGlyphs">Yesterday</text>
<rect x="540.00" y="1000.00" width="519.40" height="297.50" fill="#ffffff"/>
<text x="553.8" y="1030.2" font-size="19" fill="#1b2230" textLength="286.9" lengthAdjust="spacingAndGlyphs" stroke="#1b2230" stroke-width="0.25">Packets Out - Today Vs Yesterday</text>
<line x1="600.9" y1="1059.8" x2="1014.5" y2="1059.8" stroke="#e1e6ed" stroke-width="1.2"/>
<line x1="600.9" y1="1110.0" x2="1014.5" y2="1110.0" stroke="#e1e6ed" stroke-width="1.2"/>
<line x1="600.9" y1="1160.2" x2="1014.5" y2="1160.2" stroke="#e1e6ed" stroke-width="1.2"/>
<line x1="600.9" y1="1210.5" x2="1014.5" y2="1210.5" stroke="#e1e6ed" stroke-width="1.2"/>
<text transform="translate(594.0,1064.4) scale(0.9,1)" font-size="14.2" fill="#a0afc1" text-anchor="end">15k</text>
<text transform="translate(594.0,1114.6) scale(0.9,1)" font-size="14.2" fill="#a0afc1" text-anchor="end">10k</text>
<text transform="translate(594.0,1164.8) scale(0.9,1)" font-size="14.2" fill="#a0afc1" text-anchor="end">5,000</text>
<text transform="translate(594.0,1215.1) scale(0.9,1)" font-size="14.2" fill="#a0afc1" text-anchor="end">0</text>
<text transform="translate(1020.0,1064.4) scale(0.9,1)" font-size="14.2" fill="#a0afc1">50</text>
<text transform="translate(1020.0,1139.8) scale(0.9,1)" font-size="14.2" fill="#a0afc1">0</text>
<text transform="translate(1020.0,1215.1) scale(0.9,1)" font-size="14.2" fill="#a0afc1">-50</text>
<line x1="651.0" y1="1210.5" x2="651.0" y2="1215.5" stroke="#6b7078" stroke-width="1"/>
<text x="651.0" y="1225.8" font-size="12.2" fill="#a0afc1" text-anchor="middle" textLength="47.8" lengthAdjust="spacingAndGlyphs">06:00 PM</text>
<line x1="750.4" y1="1210.5" x2="750.4" y2="1215.5" stroke="#6b7078" stroke-width="1"/>
<text x="750.4" y="1225.8" font-size="12.2" fill="#a0afc1" text-anchor="middle" textLength="47.8" lengthAdjust="spacingAndGlyphs">12:00 AM</text>
<text x="750.4" y="1238.4" font-size="12.2" fill="#a0afc1" text-anchor="middle" textLength="49.0" lengthAdjust="spacingAndGlyphs">29 Jan 21</text>
<line x1="849.8" y1="1210.5" x2="849.8" y2="1215.5" stroke="#6b7078" stroke-width="1"/>
<text x="849.8" y="1225.8" font-size="12.2" fill="#a0afc1" text-anchor="middle" textLength="47.8" lengthAdjust="spacingAndGlyphs">06:00 AM</text>
<line x1="949.2" y1="1210.5" x2="949.2" y2="1215.5" stroke="#6b7078" stroke-width="1"/>
<text x="949.2" y="1225.8" font-size="12.2" fill="#a0afc1" text-anchor="middle" textLength="47.8" lengthAdjust="spacingAndGlyphs">12:00 PM</text>
<polyline points="607.6,1106.2 609.9,1125.9 612.4,1101.4 614.5,1133.5 616.5,1111.2 618.7,1128.0 620.5,1108.1 622.4,1129.3 624.8,1103.5 627.4,1128.3 629.5,1097.7 631.2,1123.9 633.5,1097.8 635.7,1124.4 638.2,1096.6 640.6,1137.0 643.2,1103.5 645.7,1124.7 648.3,1111.6 650.7,1137.5 653.0,1111.5 655.1,1123.3 657.0,1109.8 659.5,1128.1 661.9,1110.4 664.0,1126.3 666.6,1101.9 669.2,1126.1 671.8,1096.6 673.9,1129.0 675.7,1109.0 678.2,1128.6 680.6,1100.2 682.6,1132.7 684.9,1097.6 687.5,1137.8 689.8,1110.8 691.8,1128.9 694.2,1097.2 696.0,1130.2 697.9,1108.0 700.2,1128.5 702.4,1107.1 704.3,1134.4 706.8,1099.3 708.6,1134.1 711.0,1108.7 713.6,1133.5 716.2,1099.3 718.3,1136.2 720.7,1106.3 722.8,1125.7 725.3,1096.8 727.9,1135.4 730.5,1096.6 732.7,1133.6 734.8,1111.2 737.2,1135.4 739.0,1111.2 740.9,1127.0 743.0,1108.2 744.8,1129.0 747.3,1105.3 749.4,1131.0 751.3,1097.3 753.4,1125.9 755.7,1097.8 757.6,1133.2 760.0,1098.2 762.5,1134.2 764.9,1104.9 766.8,1126.7 768.5,1109.8 771.1,1123.1 773.6,1099.7 776.2,1133.1 778.3,1104.0 780.6,1129.9 782.8,1108.9 784.7,1127.7 787.3,1106.9 789.4,1122.0 791.9,1101.5 794.1,1125.7 796.0,1111.5 798.0,1135.1 799.8,1108.9 802.3,1132.2 804.4,1100.3 806.3,1131.3 808.8,1103.8 811.2,1126.2 813.4,1109.3 816.0,1129.6 818.4,1108.5 820.7,1126.3 822.5,1108.4 824.3,1133.3 826.4,1106.6 828.5,1123.3 830.7,1106.4 833.1,1127.9 835.7,1103.8 837.5,1127.2 839.4,1097.8 841.3,1131.3 843.1,1099.4 845.0,1126.8 847.1,1110.0 849.5,1137.2 851.3,1099.9 853.5,1130.6 855.4,1099.1 857.9,1129.9 859.9,1100.7 861.9,1132.3 863.8,1097.4 865.8,1125.8 868.2,1100.4 870.8,1125.4 872.7,1105.5 874.6,1135.3 877.0,1104.9 878.9,1133.3 881.3,1100.5 883.4,1131.2 885.8,1110.3 887.7,1127.5 889.5,1096.2 891.4,1125.8 893.3,1106.2 895.7,1133.0 897.5,1102.7 899.5,1136.8 901.4,1098.6 903.6,1122.5 906.2,1098.7 908.5,1134.9 910.7,1106.0 913.1,1136.0 915.2,1098.3 917.3,1130.3 919.3,1106.6 921.5,1136.8 923.5,1100.3 925.6,1131.3 927.8,1104.2 929.9,1124.4 931.8,1097.8 934.2,1134.7 936.6,1107.6 939.0,1127.8 940.9,1106.1 943.5,1122.3 945.3,1103.3 947.9,1129.1 950.0,1097.7 952.3,1122.2 954.5,1102.2 956.6,1130.4 959.1,1104.5 961.2,1125.1 963.3,1107.3 965.5,1135.6 967.4,1100.6 969.2,1136.5 971.0,1105.7 973.1,1122.1 975.3,1107.1 977.6,1122.6 979.7,1103.8 981.5,1122.1 983.5,1100.1 985.7,1122.6 987.6,1105.4 989.7,1133.7 991.9,1101.8 994.5,1132.1 996.7,1103.6 999.1,1134.3 1001.0,1100.9 1003.7,1132.4 1006.3,1104.5" fill="none" stroke="#a3dcf6" stroke-width="2.6" stroke-linejoin="round" stroke-linecap="round"/>
<polyline points="607.6,1098.1 609.5,1130.3 612.0,1101.2 613.9,1140.0 616.4,1090.7 618.7,1130.8 620.6,1095.1 622.9,1125.9 624.9,1101.0 626.9,1139.7 629.2,1100.1 631.0,1125.2 633.3,1092.8 635.5,1140.1 637.8,1097.1 639.6,1126.3 641.6,1105.3 644.0,1127.1 645.8,1105.6 648.4,1133.6 650.4,1098.6 653.0,1128.5 655.4,1097.9 657.7,1140.9 659.4,1094.8 661.3,1127.1 663.8,1090.5 666.4,1130.4 668.7,1097.9 670.5,1128.5 672.5,1095.3 674.3,1134.4 676.2,1100.9 678.5,1139.1 681.1,1095.1 683.4,1138.1 685.4,1099.6 687.8,1139.5 690.3,1098.0 692.5,1130.9 694.8,1105.7 696.6,1136.3 699.0,1096.8 700.7,1128.8 703.3,1102.2 705.7,1140.9 708.2,1090.2 710.4,1136.6 712.8,1097.6 714.6,1135.1 717.0,1096.6 718.8,1127.3 720.7,1097.7 723.2,1126.8 725.2,1093.3 727.1,1127.0 729.3,1102.4 731.9,1140.5 734.5,1098.5 737.0,1129.0 739.3,1103.5 741.3,1127.6 743.3,1099.8 745.7,1131.7 747.6,1097.9 749.5,1138.4 752.0,1091.7 754.1,1140.0 756.1,1103.5 758.6,1136.8 761.0,1096.5 763.0,1131.9 764.8,1091.9 767.1,1128.5 769.1,1105.2 771.5,1132.9 773.7,1090.4 776.3,1131.4 778.3,1092.8 780.7,1133.7 782.9,1097.3 785.6,1141.7 787.7,1091.3 790.3,1128.6 792.8,1090.1 795.3,1132.4 797.8,1093.7 800.1,1141.7 802.2,1091.0 804.7,1137.4 806.4,1095.6 808.3,1131.4 810.8,1099.0 812.9,1132.7 815.3,1091.1 817.5,1135.9 819.9,1097.9 822.5,1130.1 824.3,1104.1 826.8,1135.5 829.4,1098.1 831.6,1130.9 833.7,1096.5 835.8,1128.6 838.0,1091.2 839.8,1136.1 842.0,1103.7 844.2,1125.9 846.5,1101.0 849.0,1137.1 851.6,1094.1 853.8,1128.9 855.7,1102.8 857.6,1126.8 859.7,1093.2 861.5,1126.8 863.9,1097.8 866.5,1128.8 868.6,1097.6 870.7,1138.4 873.2,1098.7 875.2,1134.9 877.1,1104.4 879.0,1134.1 881.5,1093.0 883.5,1134.6 886.0,1105.8 888.6,1141.0 891.0,1100.1 892.9,1141.1 895.1,1100.6 897.2,1139.9 899.5,1101.5 902.1,1130.0 904.2,1096.3 906.2,1124.0 908.3,1105.3 910.6,1132.7 913.2,1098.1 915.5,1136.5 918.0,1091.0 920.4,1130.6 922.7,1090.9 925.1,1128.1 927.1,1103.3 929.4,1142.0 931.9,1102.9 934.0,1130.1 936.2,1105.9 938.6,1134.9 940.7,1102.3 943.0,1126.9 945.7,1094.6 948.0,1133.3 949.8,1092.8 952.2,1141.8 954.3,1096.7 956.3,1134.2 958.6,1105.6 960.6,1139.7 962.7,1105.6 964.7,1141.4 966.7,1104.6 969.1,1131.9 971.4,1097.5 973.5,1137.3 975.4,1093.5 977.6,1137.0 979.7,1102.5 982.3,1126.3 984.5,1096.0 986.4,1134.4 988.9,1091.0 990.9,1134.5 992.8,1095.9 995.1,1135.2 997.7,1095.5 999.8,1137.2 1001.5,1095.9 1003.7,1137.9 1006.0,1102.0" fill="none" stroke="#98c83c" stroke-width="2.6" stroke-linejoin="round" stroke-linecap="round"/>
<polyline points="607.6,1120.7 609.0,1069.2 610.9,1120.3 612.5,1168.6 613.8,1126.9 615.6,1103.6 617.4,1135.8 619.0,1184.6 620.6,1125.6 622.3,1102.3 624.1,1134.1 625.4,1188.1 626.7,1121.5 628.2,1106.3 629.5,1120.3 631.2,1178.5 632.7,1126.6 634.4,1099.7 635.8,1125.4 637.3,1187.5 639.0,1130.4 640.8,1094.7 642.6,1127.7 644.4,1180.5 646.0,1121.5 647.6,1075.3 649.0,1122.7 650.6,1138.0 652.2,1122.7 653.8,1103.4 655.7,1124.1 657.5,1167.1 658.8,1127.7 660.5,1093.1 662.1,1132.3 663.5,1160.3 665.1,1128.7 666.6,1100.4 668.5,1130.8 669.7,1159.9 671.6,1127.1 672.9,1070.1 674.4,1123.9 675.6,1171.5 677.2,1123.4 678.5,1092.3 679.9,1120.1 681.5,1159.1 683.4,1120.1 684.8,1083.7 686.5,1124.3 687.7,1168.2 689.2,1128.5 690.7,1099.4 692.2,1125.8 693.5,1171.1 694.9,1121.2 696.5,1093.1 698.2,1128.4 700.0,1161.2 701.8,1128.4 703.5,1107.6 705.1,1134.1 706.3,1163.9 707.9,1132.5 709.1,1102.3 710.9,1134.0 712.3,1162.0 714.0,1123.5 715.3,1065.5 717.1,1129.5 718.6,1158.3 720.5,1118.3 721.8,1090.1 723.6,1121.8 725.0,1158.0 726.8,1122.3 728.6,1106.3 730.2,1123.2 731.4,1172.2 733.2,1129.5 734.5,1099.1 736.3,1131.4 738.1,1168.8 739.6,1129.8 741.2,1107.0 742.7,1123.7 744.4,1166.0 745.9,1128.4 747.1,1094.0 748.9,1123.0 750.3,1170.8 752.1,1127.5 753.4,1102.9 755.1,1120.0 756.6,1158.5 758.5,1132.3 760.0,1101.4 761.3,1135.5 762.9,1130.0 764.4,1120.5 765.9,1094.9 767.3,1122.0 769.1,1161.3 770.8,1122.0 772.1,1097.3 773.8,1135.0 775.2,1166.8 777.0,1127.1 778.5,1097.6 780.0,1121.8 781.6,1172.1 783.4,1120.5 784.7,1095.5 786.3,1129.1 787.6,1162.5 789.5,1122.6 791.1,1103.1 792.9,1128.4 794.3,1160.4 796.2,1120.7 797.8,1107.4 799.4,1120.8 800.9,1173.6 802.2,1130.4 803.9,1105.5 805.6,1135.8 807.3,1136.7 808.6,1124.6 810.3,1098.8 811.9,1126.2 813.3,1158.3 814.8,1125.4 816.2,1092.4 818.0,1134.4 819.7,1168.3 821.4,1120.4 822.9,1106.3 824.8,1128.6 826.3,1169.8 827.7,1126.3 829.2,1096.9 830.8,1126.2 832.6,1166.9 834.5,1128.4 836.0,1097.3 837.4,1131.3 838.7,1135.4 840.2,1120.3 841.6,1104.4 843.2,1123.6 845.0,1164.2 846.8,1129.2 848.4,1092.8 850.3,1130.4 851.8,1163.4 853.2,1133.5 854.5,1093.4 856.2,1128.2 857.8,1158.5 859.2,1126.3 860.7,1104.7 862.3,1121.0 863.8,1150.3 865.6,1129.3 867.3,1100.6 868.7,1131.2 870.1,1141.0 871.4,1122.0 873.0,1100.9 874.3,1131.8 875.9,1144.1 877.7,1119.1 879.0,1099.0 880.9,1134.8 882.6,1159.6 884.3,1126.8 886.0,1108.4 887.9,1120.5 889.1,1140.5 890.7,1124.1 892.3,1097.6 893.8,1134.8 895.4,1156.8 897.2,1131.7 898.6,1102.9 900.4,1125.9 901.7,1150.3 903.6,1120.0 904.9,1101.5 906.8,1123.0 908.0,1143.0 909.4,1125.4 911.0,1109.2 912.5,1125.8 913.9,1151.6 915.7,1123.2 917.1,1099.6 918.5,1132.3 919.9,1149.2 921.2,1123.8 922.7,1107.1 924.5,1123.7 926.0,1142.0 927.8,1130.6 929.5,1105.9 931.2,1124.8 932.5,1153.8 933.9,1127.6 935.2,1091.5 936.5,1131.7 937.9,1149.9 939.3,1127.2 941.1,1106.3 942.8,1122.2 944.3,1133.6 945.7,1119.2 947.4,1099.6 948.7,1129.1 950.4,1142.1 952.0,1133.3 953.6,1111.8 955.2,1126.5 956.6,1156.0 958.0,1130.1 959.4,1093.2 961.1,1128.5 962.7,1157.5 964.2,1132.3 965.4,1094.9 967.2,1121.0 968.5,1141.2 969.8,1128.1 971.2,1107.2 972.9,1135.6 974.5,1139.8 976.3,1126.9 977.7,1093.7 979.3,1123.2 980.7,1135.7 982.1,1126.8 983.4,1102.1 985.2,1128.3 987.0,1146.5 988.4,1122.2 990.1,1110.3 991.8,1125.7 993.1,1148.4 994.5,1126.6 995.8,1095.7 997.5,1131.6 998.9,1141.7 1000.8,1128.4 1002.4,1100.0 1004.3,1128.0 1006.0,1151.4 1006.5,1146.0" fill="none" stroke="#429fd4" stroke-width="3.0" stroke-linejoin="round" stroke-linecap="round"/>
<circle cx="566.1" cy="1266.7" r="6.2" fill="#429fd4"/>
<text x="578.9" y="1272.2" font-size="14" fill="#1c2430" textLength="124.5" lengthAdjust="spacingAndGlyphs">Percentage Change</text>
<circle cx="721.7" cy="1266.7" r="6.2" fill="#a3dcf6"/>
<text x="733.5" y="1272.2" font-size="14" fill="#1c2430" textLength="38.2" lengthAdjust="spacingAndGlyphs">Today</text>
<circle cx="790.5" cy="1266.7" r="6.2" fill="#98c83c"/>
<text x="802.7" y="1272.2" font-size="14" fill="#1c2430" textLength="62.8" lengthAdjust="spacingAndGlyphs">Yesterday</text>
<rect x="1068.70" y="1000.00" width="519.30" height="297.50" fill="#ffffff"/>
<text x="1082.5" y="1030.2" font-size="19" fill="#1b2230" textLength="446.4" lengthAdjust="spacingAndGlyphs" stroke="#1b2230" stroke-width="0.25">Net Difference of In and Out (Packets) Network Tra…</text>
<line x1="1114" y1="1059.8" x2="1542.6" y2="1059.8" stroke="#e1e6ed" stroke-width="1.2"/>
<line x1="1114" y1="1135.2" x2="1542.6" y2="1135.2" stroke="#e1e6ed" stroke-width="1.2"/>
<line x1="1114" y1="1210.5" x2="1542.6" y2="1210.5" stroke="#e1e6ed" stroke-width="1.2"/>
<text transform="translate(1107.2,1064.4) scale(0.9,1)" font-size="14.2" fill="#a0afc1" text-anchor="end">50</text>
<text transform="translate(1107.2,1139.8) scale(0.9,1)" font-size="14.2" fill="#a0afc1" text-anchor="end">0</text>
<text transform="translate(1107.2,1215.1) scale(0.9,1)" font-size="14.2" fill="#a0afc1" text-anchor="end">-50</text>
<text transform="translate(1548.7,1064.4) scale(0.9,1)" font-size="14.2" fill="#a0afc1">20</text>
<text transform="translate(1548.7,1139.8) scale(0.9,1)" font-size="14.2" fill="#a0afc1">0</text>
<text transform="translate(1548.7,1215.1) scale(0.9,1)" font-size="14.2" fill="#a0afc1">-20</text>
<line x1="1165.0" y1="1210.5" x2="1165.0" y2="1215.5" stroke="#6b7078" stroke-width="1"/>
<text x="1165.0" y="1225.8" font-size="12.2" fill="#a0afc1" text-anchor="middle" textLength="47.8" lengthAdjust="spacingAndGlyphs">06:00 PM</text>
<line x1="1268.5" y1="1210.5" x2="1268.5" y2="1215.5" stroke="#6b7078" stroke-width="1"/>
<text x="1268.5" y="1225.8" font-size="12.2" fill="#a0afc1" text-anchor="middle" textLength="47.8" lengthAdjust="spacingAndGlyphs">12:00 AM</text>
<text x="1268.5" y="1238.4" font-size="12.2" fill="#a0afc1" text-anchor="middle" textLength="49.0" lengthAdjust="spacingAndGlyphs">29 Jan 21</text>
<line x1="1372.0" y1="1210.5" x2="1372.0" y2="1215.5" stroke="#6b7078" stroke-width="1"/>
<text x="1372.0" y="1225.8" font-size="12.2" fill="#a0afc1" text-anchor="middle" textLength="47.8" lengthAdjust="spacingAndGlyphs">06:00 AM</text>
<line x1="1475.5" y1="1210.5" x2="1475.5" y2="1215.5" stroke="#6b7078" stroke-width="1"/>
<text x="1475.5" y="1225.8" font-size="12.2" fill="#a0afc1" text-anchor="middle" textLength="47.8" lengthAdjust="spacingAndGlyphs">12:00 PM</text>
<polyline points="1120.7,1128.3 1122.3,1081.1 1123.7,1134.8 1125.3,1177.9 1127.1,1130.3 1128.8,1090.2 1130.4,1134.0 1132.1,1152.8 1133.6,1132.7 1135.2,1103.8 1136.6,1128.9 1138.1,1148.9 1139.9,1129.0 1141.2,1104.5 1142.7,1132.1 1144.1,1160.2 1145.7,1126.8 1147.4,1116.0 1149.1,1133.3 1150.7,1152.3 1152.5,1138.0 1154.2,1102.2 1155.7,1137.2 1157.3,1160.5 1158.8,1134.2 1160.3,1099.2 1162.1,1128.4 1163.6,1185.2 1165.2,1135.9 1167.0,1090.7 1168.4,1129.0 1169.9,1174.9 1171.5,1132.0 1172.7,1106.5 1174.2,1128.5 1175.8,1157.8 1177.6,1134.3 1179.5,1106.3 1180.9,1134.9 1182.3,1152.1 1183.9,1132.3 1185.7,1103.0 1187.4,1127.7 1189.0,1158.6 1190.5,1126.5 1192.2,1100.3 1193.9,1130.4 1195.4,1148.7 1197.1,1136.1 1198.7,1103.6 1200.4,1137.9 1202.0,1162.5 1203.8,1136.8 1205.2,1081.7 1207.0,1132.3 1208.5,1180.8 1210.1,1131.3 1211.5,1088.0 1212.8,1133.0 1214.2,1175.9 1215.6,1136.6 1217.0,1102.1 1218.5,1134.4 1220.1,1163.7 1221.9,1129.1 1223.4,1099.1 1224.7,1130.4 1226.6,1163.6 1228.3,1133.8 1229.7,1099.8 1231.1,1129.6 1232.7,1153.2 1234.1,1130.8 1235.5,1107.9 1236.8,1129.9 1238.7,1156.2 1240.4,1134.1 1242.1,1107.8 1243.7,1130.5 1245.5,1159.2 1246.8,1133.9 1248.4,1083.4 1250.1,1134.1 1251.4,1178.7 1252.9,1126.6 1254.3,1093.7 1255.6,1134.3 1257.3,1160.5 1258.8,1130.8 1260.7,1117.3 1262.5,1134.9 1264.0,1165.8 1265.6,1135.4 1267.2,1103.2 1269.1,1131.2 1270.7,1159.0 1272.6,1137.1 1274.0,1105.7 1275.7,1128.2 1277.2,1163.5 1278.8,1129.7 1280.1,1104.6 1281.4,1135.8 1283.0,1161.9 1284.8,1132.0 1286.4,1112.4 1287.7,1137.6 1289.5,1180.9 1290.8,1134.7 1292.2,1083.1 1293.7,1127.7 1295.6,1174.4 1297.1,1135.5 1298.6,1090.6 1300.4,1136.0 1302.2,1167.8 1304.1,1131.1 1305.9,1106.1 1307.4,1136.8 1309.3,1155.6 1311.0,1136.1 1312.9,1114.0 1314.7,1131.7 1316.3,1163.0 1317.7,1126.2 1319.3,1108.5 1321.1,1128.7 1322.7,1150.5 1324.1,1126.7 1325.5,1117.7 1326.8,1132.9 1328.4,1161.0 1330.1,1135.2 1331.8,1082.2 1333.6,1137.9 1335.3,1174.8 1336.7,1133.5 1338.1,1091.0 1339.5,1132.1 1341.4,1149.6 1343.3,1133.1 1344.7,1098.8 1346.2,1130.6 1348.0,1151.6 1349.3,1136.1 1351.0,1117.3 1352.4,1133.4 1354.2,1154.3 1356.1,1129.1 1357.6,1099.8 1359.5,1136.0 1360.8,1165.3 1362.6,1126.2 1364.1,1109.4 1365.6,1134.4 1367.1,1161.6 1368.9,1137.9 1370.7,1117.1 1372.0,1130.8 1374.0,1180.5 1375.8,1135.1 1377.7,1089.6 1379.0,1133.5 1380.7,1178.1 1382.3,1127.6 1383.9,1101.5 1385.6,1126.9 1387.3,1165.2 1388.8,1135.8 1390.2,1101.6 1391.7,1129.9 1393.6,1154.1 1394.9,1135.0 1396.7,1100.4 1398.2,1127.1 1400.0,1152.8 1401.8,1130.5 1403.6,1104.2 1405.2,1135.1 1407.1,1156.9 1408.4,1135.6 1409.7,1108.4 1411.0,1130.9 1412.4,1157.0 1414.1,1129.7 1415.7,1079.2 1417.5,1137.0 1419.0,1171.9 1420.4,1130.3 1421.7,1093.5 1423.3,1136.4 1424.6,1173.6 1426.4,1136.8 1428.1,1112.2 1429.5,1133.0 1431.4,1149.1 1433.2,1127.7 1435.0,1108.1 1436.8,1127.0 1438.6,1148.1 1440.3,1137.3 1441.8,1102.1 1443.1,1131.1 1444.6,1158.4 1446.4,1132.5 1448.1,1105.9 1450.0,1126.8 1451.8,1155.1 1453.7,1126.8 1455.2,1099.6 1456.6,1130.8 1458.2,1180.4 1460.1,1127.7 1462.0,1087.2 1463.9,1135.1 1465.8,1178.2 1467.7,1131.1 1469.6,1107.2 1470.9,1130.6 1472.3,1151.2 1474.1,1128.8 1475.8,1117.2 1477.5,1130.7 1479.2,1158.6 1480.5,1127.9 1482.0,1105.9 1483.9,1135.5 1485.4,1165.1 1487.1,1137.0 1488.7,1108.2 1490.0,1134.3 1491.5,1162.5 1492.8,1136.3 1494.2,1114.9 1495.5,1133.2 1496.9,1149.2 1498.6,1130.1 1500.0,1080.1 1501.7,1133.7 1503.1,1173.7 1504.6,1134.0 1505.9,1087.9 1507.4,1130.2 1509.1,1151.2 1510.9,1132.6 1512.7,1105.2 1514.6,1133.5 1516.1,1153.1 1517.8,1127.5 1519.1,1106.4 1520.9,1133.8 1522.2,1150.3 1524.0,1137.1 1525.6,1113.6 1527.2,1129.2 1528.5,1162.1 1529.9,1132.9 1531.7,1111.6 1533.2,1130.3 1534.6,1148.8" fill="none" stroke="#a3dcf6" stroke-width="2.6" stroke-linejoin="round" stroke-linecap="round"/>
<polyline points="1120.7,1122.0 1122.8,1149.4 1124.9,1124.0 1127.0,1149.9 1129.3,1127.8 1131.3,1146.5 1133.5,1125.4 1135.5,1144.4 1137.4,1119.3 1139.2,1144.5 1141.1,1125.1 1142.9,1149.6 1144.8,1121.6 1146.7,1150.7 1148.5,1125.1 1150.8,1142.7 1152.7,1127.6 1155.1,1145.4 1157.5,1127.4 1159.6,1142.9 1162.0,1126.8 1164.5,1142.1 1166.7,1124.3 1169.1,1143.6 1171.5,1122.9 1174.1,1149.4 1176.1,1122.3 1178.7,1148.3 1181.0,1126.3 1183.4,1145.5 1185.1,1120.4 1187.6,1147.2 1190.1,1124.5 1192.3,1148.1 1194.4,1121.8 1196.9,1146.5 1199.2,1120.4 1201.5,1144.3 1204.0,1127.2 1206.4,1142.7 1208.5,1124.3 1210.9,1147.9 1212.7,1119.0 1215.2,1143.5 1217.6,1123.9 1219.4,1143.6 1221.7,1121.6 1223.5,1148.7 1226.0,1123.2 1227.8,1151.7 1230.0,1127.4 1232.4,1144.4 1235.0,1120.0 1236.8,1143.3 1239.3,1127.6 1241.5,1148.0 1243.9,1125.5 1246.3,1147.4 1248.7,1121.3 1250.5,1149.5 1252.8,1126.8 1254.8,1150.2 1257.4,1121.7 1259.5,1146.2 1261.3,1127.4 1263.1,1143.0 1265.3,1124.4 1267.8,1146.8 1270.2,1118.2 1272.7,1145.1 1275.2,1126.5 1277.1,1150.2 1279.4,1125.9 1281.4,1147.5 1283.8,1121.3 1285.8,1148.2 1287.6,1126.7 1289.8,1151.0 1292.1,1125.0 1294.3,1144.4 1296.4,1121.6 1298.4,1146.8 1300.4,1125.1 1302.6,1147.4 1304.9,1118.6 1307.4,1143.4 1309.4,1122.0 1312.0,1149.5 1314.4,1120.1 1316.9,1148.7 1318.8,1123.4 1321.3,1146.2 1323.2,1124.9 1325.5,1150.6 1328.0,1125.8 1330.1,1147.3 1332.6,1125.9 1334.9,1144.0 1337.4,1125.8 1339.6,1143.2 1342.2,1123.8 1344.6,1146.9 1346.9,1120.7 1348.7,1149.2 1351.1,1123.5 1353.5,1145.1 1355.3,1125.3 1358.0,1145.8 1360.2,1119.9 1362.5,1144.0 1364.6,1119.3 1366.8,1144.1 1368.6,1120.8 1370.6,1145.8 1373.1,1121.1 1375.0,1146.8 1377.3,1119.9 1379.8,1150.1 1382.3,1121.6 1384.5,1143.8 1386.5,1125.6 1388.3,1147.2 1390.2,1123.2 1392.2,1147.2 1394.8,1119.4 1396.7,1147.1 1399.3,1120.4 1401.3,1147.4 1403.8,1125.9 1406.2,1142.1 1408.5,1121.1 1411.0,1151.6 1412.9,1123.9 1415.2,1150.0 1417.5,1119.4 1419.6,1149.3 1421.6,1126.1 1424.2,1147.8 1426.3,1124.3 1428.4,1151.1 1430.3,1120.9 1432.9,1149.9 1435.4,1122.8 1437.2,1142.3 1439.3,1126.1 1441.2,1151.1 1443.7,1125.6 1446.0,1146.1 1448.6,1118.5 1450.7,1144.0 1452.9,1125.7 1454.9,1151.9 1457.4,1126.7 1460.0,1144.3 1462.0,1122.1 1464.6,1146.8 1466.7,1126.6 1469.2,1142.8 1471.6,1127.5 1473.8,1144.6 1476.4,1120.6 1479.0,1145.9 1481.0,1119.3 1483.1,1142.4 1484.9,1125.5 1486.7,1150.1 1489.1,1121.0 1491.1,1145.9 1493.3,1125.3 1495.6,1144.6 1498.2,1121.0 1500.1,1147.3 1502.1,1126.3 1504.2,1150.5 1506.8,1118.0 1509.2,1143.7 1511.5,1127.6 1514.0,1144.9 1516.0,1123.5 1518.5,1150.0 1520.9,1121.1 1523.3,1146.3 1525.5,1124.0 1527.3,1149.5 1529.2,1120.8 1531.0,1144.4 1533.4,1120.4 1535.3,1146.3" fill="none" stroke="#98c83c" stroke-width="2.6" stroke-linejoin="round" stroke-linecap="round"/>
<polyline points="1120.7,1124.0 1122.2,1078.4 1123.8,1128.2 1125.0,1179.6 1126.3,1130.1 1127.7,1086.8 1129.2,1130.8 1130.9,1169.0 1132.6,1127.8 1134.2,1100.0 1135.4,1122.8 1137.2,1146.6 1138.9,1131.1 1140.3,1098.3 1142.1,1122.0 1143.8,1157.3 1145.1,1127.7 1146.5,1101.5 1147.8,1125.3 1149.2,1152.0 1150.4,1133.7 1151.8,1104.5 1153.6,1127.5 1154.9,1145.2 1156.4,1129.0 1158.2,1105.5 1159.8,1124.7 1161.3,1149.7 1163.0,1133.7 1164.7,1076.5 1166.3,1122.5 1167.5,1186.1 1169.0,1124.5 1170.3,1089.7 1171.9,1132.4 1173.4,1170.2 1175.0,1126.0 1176.8,1100.0 1178.0,1130.7 1179.7,1147.6 1181.2,1122.7 1182.6,1101.3 1184.4,1127.1 1186.1,1143.6 1187.5,1124.2 1189.3,1101.8 1190.9,1124.2 1192.6,1155.1 1194.3,1124.1 1195.8,1114.1 1197.6,1133.4 1199.3,1147.0 1200.6,1131.1 1202.0,1114.9 1203.7,1130.2 1204.9,1181.0 1206.2,1125.7 1207.7,1081.2 1209.2,1125.7 1210.7,1170.6 1211.9,1129.7 1213.6,1091.6 1215.3,1131.0 1216.8,1151.6 1218.1,1133.8 1219.6,1109.3 1220.9,1125.5 1222.6,1154.0 1224.1,1131.3 1225.6,1103.1 1227.3,1129.9 1228.5,1162.0 1229.9,1131.2 1231.3,1117.5 1232.8,1129.0 1234.3,1148.0 1236.0,1133.5 1237.7,1115.9 1239.2,1133.7 1240.6,1146.8 1242.3,1133.0 1243.8,1102.2 1245.2,1128.1 1246.6,1149.4 1247.8,1129.9 1249.2,1079.1 1250.8,1131.1 1252.2,1170.9 1253.8,1129.5 1255.2,1089.2 1256.7,1122.1 1258.1,1150.4 1259.5,1123.7 1261.1,1106.9 1262.7,1131.0 1264.2,1144.0 1265.9,1133.7 1267.3,1099.6 1269.0,1133.5 1270.6,1149.0 1272.3,1128.1 1274.0,1115.2 1275.3,1133.4 1276.7,1150.3 1278.5,1122.7 1280.0,1114.9 1281.3,1127.3 1282.9,1144.3 1284.5,1134.0 1285.8,1116.3 1287.2,1130.8 1288.5,1161.1 1289.9,1126.2 1291.2,1079.3 1293.0,1132.3 1294.3,1172.5 1295.5,1128.2 1297.0,1087.9 1298.5,1123.8 1299.9,1146.3 1301.7,1132.4 1303.4,1113.2 1304.9,1132.0 1306.5,1154.4 1308.3,1129.5 1309.7,1105.1 1311.0,1129.6 1312.4,1160.6 1313.7,1123.0 1315.0,1110.5 1316.4,1131.8 1317.9,1154.0 1319.2,1131.4 1320.9,1114.4 1322.4,1128.0 1324.2,1158.9 1325.4,1130.9 1326.8,1108.4 1328.2,1124.8 1329.4,1150.7 1330.6,1128.8 1332.1,1077.4 1333.5,1126.6 1334.9,1180.0 1336.6,1128.5 1338.0,1090.7 1339.3,1123.2 1340.7,1167.4 1341.9,1127.8 1343.7,1098.4 1345.4,1127.1 1346.9,1160.1 1348.1,1123.4 1349.6,1113.6 1350.9,1127.7 1352.6,1160.6 1353.8,1125.6 1355.3,1117.8 1357.1,1131.3 1358.7,1152.6 1360.4,1132.2 1362.0,1104.9 1363.5,1126.9 1365.0,1151.1 1366.3,1133.6 1367.8,1102.1 1369.3,1129.3 1370.9,1159.3 1372.3,1132.4 1373.5,1076.1 1374.7,1123.0 1376.5,1180.9 1378.2,1132.2 1379.4,1093.5 1380.8,1133.7 1382.2,1173.9 1383.7,1133.2 1385.4,1106.0 1387.0,1125.8 1388.3,1154.5 1390.1,1122.4 1391.6,1117.4 1392.8,1130.0 1394.6,1151.5 1396.3,1130.1 1398.0,1112.8 1399.3,1127.0 1400.7,1144.7 1402.1,1130.9 1403.3,1105.1 1404.7,1123.1 1406.3,1144.5 1407.7,1123.4 1409.2,1104.6 1410.5,1131.1 1412.0,1152.8 1413.6,1133.3 1414.9,1074.5 1416.3,1127.7 1418.1,1185.5 1419.5,1130.9 1421.1,1092.4 1422.4,1127.7 1424.0,1170.8 1425.6,1132.2 1426.9,1107.0 1428.5,1127.0 1429.8,1145.9 1431.2,1127.9 1432.9,1101.7 1434.6,1122.3 1436.0,1162.2 1437.5,1126.4 1438.8,1100.9 1440.0,1127.4 1441.4,1157.4 1443.0,1125.0 1444.4,1100.9 1445.8,1132.8 1447.5,1159.5 1448.8,1133.1 1450.2,1112.2 1451.4,1123.7 1453.1,1156.6 1454.5,1131.0 1456.0,1100.7 1457.7,1125.3 1459.5,1181.7 1461.2,1125.2 1462.5,1090.6 1464.3,1122.7 1465.7,1169.1 1467.1,1124.1 1468.4,1107.7 1469.9,1130.8 1471.4,1144.9 1472.9,1129.7 1474.4,1105.3 1476.2,1133.3 1477.4,1162.5 1479.2,1133.0 1480.6,1103.4 1482.2,1126.1 1483.5,1159.1 1484.8,1124.1 1486.5,1102.6 1488.0,1127.9 1489.7,1145.8 1491.2,1132.7 1492.5,1098.8 1493.7,1133.8 1495.2,1155.8 1496.4,1130.2 1497.7,1105.5 1499.2,1125.9 1500.5,1185.6 1501.7,1132.4 1503.2,1078.0 1504.6,1124.0 1506.3,1170.2 1507.8,1126.9 1509.1,1089.4 1510.5,1132.8 1511.8,1144.0 1513.1,1133.8 1514.3,1106.3 1515.6,1128.3 1517.0,1161.1 1518.7,1130.2 1520.2,1118.0 1521.7,1130.4 1523.2,1148.1 1524.5,1122.7 1525.8,1106.2 1527.1,1127.2 1528.5,1157.3 1529.9,1131.5 1531.4,1111.7 1533.2,1131.4 1534.7,1155.0 1535.9,1130.5" fill="none" stroke="#429fd4" stroke-width="3.0" stroke-linejoin="round" stroke-linecap="round"/>
<circle cx="1093.7" cy="1266.7" r="6.2" fill="#429fd4"/>
<text x="1106.6" y="1272.2" font-size="14" fill="#1c2430" textLength="91.8" lengthAdjust="spacingAndGlyphs">Net Difference</text>
<circle cx="1215.2" cy="1266.7" r="6.2" fill="#a3dcf6"/>
<text x="1228.0" y="1272.2" font-size="14" fill="#1c2430" textLength="63.2" lengthAdjust="spacingAndGlyphs">PacketsIn</text>
<circle cx="1309.7" cy="1266.7" r="6.2" fill="#98c83c"/>
<text x="1321.6" y="1272.2" font-size="14" fill="#1c2430" textLength="73.4" lengthAdjust="spacingAndGlyphs">PacketsOut</text>
<rect x="0" y="1255" width="1600" height="55" fill="url(#botG)"/>
<rect x="0" y="64" width="7" height="1246" fill="url(#leftG)"/>
</svg>
</body></html>
